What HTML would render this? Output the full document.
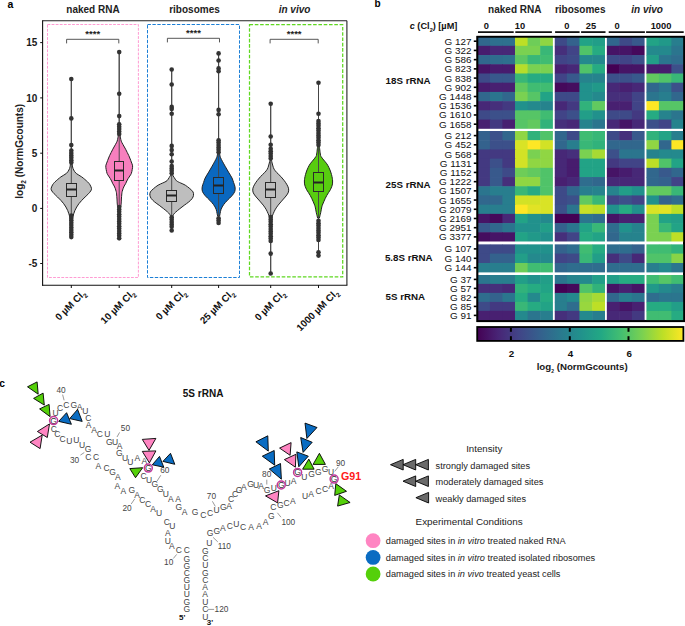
<!DOCTYPE html>
<html><head><meta charset="utf-8"><style>
html,body{margin:0;padding:0;background:#fff;}
svg{display:block;font-family:"Liberation Sans", sans-serif;}
</style></head><body>
<svg width="685" height="626" viewBox="0 0 685 626">
<rect width="685" height="626" fill="#fff"/>
<text x="7.60" y="8.10" font-size="10.5" font-weight="bold" font-style="normal" text-anchor="start" fill="#000" >a</text>
<text x="93.00" y="12.80" font-size="10" font-weight="bold" font-style="normal" text-anchor="middle" fill="#222" >naked RNA</text>
<text x="194.50" y="12.80" font-size="10" font-weight="bold" font-style="normal" text-anchor="middle" fill="#222" >ribosomes</text>
<text x="294.50" y="12.80" font-size="10" font-weight="bold" font-style="italic" text-anchor="middle" fill="#222" >in vivo</text>
<line x1="42.60" y1="20.70" x2="346.90" y2="20.70" stroke="#222" stroke-width="1.1" />
<line x1="346.90" y1="20.70" x2="346.90" y2="285.20" stroke="#222" stroke-width="1.1" />
<rect x="47.50" y="24.50" width="90.90" height="253.00" fill="none" stroke="#ff8acb" stroke-width="0.85" stroke-dasharray="2.8,1.3"/>
<rect x="147.50" y="24.50" width="92.00" height="253.00" fill="none" stroke="#1c7fd6" stroke-width="1.0" stroke-dasharray="3.4,1.5"/>
<rect x="249.50" y="24.70" width="93.20" height="252.20" fill="none" stroke="#5fd820" stroke-width="1.25" stroke-dasharray="3.6,1.7"/>
<path d="M66.6,43.4 L66.6,39.3 L118.8,39.3 L118.8,43.4" fill="none" stroke="#444" stroke-width="0.9"/>
<text x="92.70" y="37.10" font-size="9.5" font-weight="bold" font-style="normal" text-anchor="middle" fill="#222" >****</text>
<path d="M167.4,42.4 L167.4,38.3 L219.5,38.3 L219.5,42.4" fill="none" stroke="#444" stroke-width="0.9"/>
<text x="193.45" y="36.10" font-size="9.5" font-weight="bold" font-style="normal" text-anchor="middle" fill="#222" >****</text>
<path d="M270.1,43.4 L270.1,39.3 L318.2,39.3 L318.2,43.4" fill="none" stroke="#444" stroke-width="0.9"/>
<text x="294.15" y="37.10" font-size="9.5" font-weight="bold" font-style="normal" text-anchor="middle" fill="#222" >****</text>
<line x1="71.30" y1="79.00" x2="71.30" y2="238.00" stroke="#444" stroke-width="0.95" />
<line x1="119.20" y1="52.10" x2="119.20" y2="240.20" stroke="#444" stroke-width="0.95" />
<line x1="171.70" y1="69.50" x2="171.70" y2="229.70" stroke="#444" stroke-width="0.95" />
<line x1="218.60" y1="53.40" x2="218.60" y2="223.70" stroke="#444" stroke-width="0.95" />
<line x1="270.70" y1="103.70" x2="270.70" y2="273.50" stroke="#444" stroke-width="0.95" />
<line x1="318.50" y1="82.80" x2="318.50" y2="255.60" stroke="#444" stroke-width="0.95" />
<path d="M72.10,163.50 C72.18,164.08 72.33,165.92 72.60,167.00 C72.87,168.08 73.08,168.92 73.70,170.00 C74.32,171.08 74.97,172.35 76.30,173.50 C77.63,174.65 79.82,175.50 81.70,176.90 C83.58,178.30 86.20,180.55 87.60,181.90 C89.00,183.25 89.45,183.88 90.10,185.00 C90.75,186.12 91.40,187.60 91.50,188.60 C91.60,189.60 91.20,190.15 90.70,191.00 C90.20,191.85 89.43,192.70 88.50,193.70 C87.57,194.70 86.23,195.88 85.10,197.00 C83.97,198.12 82.73,199.28 81.70,200.40 C80.67,201.52 79.73,202.60 78.90,203.70 C78.07,204.80 77.37,205.87 76.70,207.00 C76.03,208.13 75.40,209.37 74.90,210.50 C74.40,211.63 74.05,212.72 73.70,213.80 C73.35,214.88 73.03,215.97 72.80,217.00 C72.57,218.03 72.38,219.50 72.30,220.00 L70.30,220.00 C70.22,219.50 70.03,218.03 69.80,217.00 C69.57,215.97 69.25,214.88 68.90,213.80 C68.55,212.72 68.20,211.63 67.70,210.50 C67.20,209.37 66.57,208.13 65.90,207.00 C65.23,205.87 64.53,204.80 63.70,203.70 C62.87,202.60 61.93,201.52 60.90,200.40 C59.87,199.28 58.63,198.12 57.50,197.00 C56.37,195.88 55.03,194.70 54.10,193.70 C53.17,192.70 52.40,191.85 51.90,191.00 C51.40,190.15 51.00,189.60 51.10,188.60 C51.20,187.60 51.85,186.12 52.50,185.00 C53.15,183.88 53.60,183.25 55.00,181.90 C56.40,180.55 59.02,178.30 60.90,176.90 C62.78,175.50 64.97,174.65 66.30,173.50 C67.63,172.35 68.28,171.08 68.90,170.00 C69.52,168.92 69.73,168.08 70.00,167.00 C70.27,165.92 70.42,164.08 70.50,163.50 Z" fill="#bebebe" stroke="#222" stroke-width="1.0"/>
<line x1="71.30" y1="79.00" x2="71.30" y2="238.00" stroke="#444" stroke-width="0.95" />
<rect x="66.50" y="183.50" width="10.00" height="13.00" fill="#bebebe" stroke="#2a2a2a" stroke-width="1.0" />
<line x1="66.50" y1="189.50" x2="76.50" y2="189.50" stroke="#222" stroke-width="2.0" />
<circle cx="71.30" cy="79.00" r="2.30" fill="#333" stroke="none" stroke-width="1"/>
<circle cx="71.30" cy="118.40" r="2.30" fill="#333" stroke="none" stroke-width="1"/>
<circle cx="71.30" cy="145.10" r="2.30" fill="#333" stroke="none" stroke-width="1"/>
<circle cx="71.30" cy="150.60" r="2.30" fill="#333" stroke="none" stroke-width="1"/>
<circle cx="71.30" cy="153.00" r="2.30" fill="#333" stroke="none" stroke-width="1"/>
<circle cx="71.30" cy="155.40" r="2.30" fill="#333" stroke="none" stroke-width="1"/>
<circle cx="71.30" cy="157.80" r="2.30" fill="#333" stroke="none" stroke-width="1"/>
<circle cx="71.30" cy="160.20" r="2.30" fill="#333" stroke="none" stroke-width="1"/>
<circle cx="71.30" cy="162.60" r="2.30" fill="#333" stroke="none" stroke-width="1"/>
<circle cx="71.30" cy="215.50" r="2.30" fill="#333" stroke="none" stroke-width="1"/>
<circle cx="71.30" cy="217.90" r="2.30" fill="#333" stroke="none" stroke-width="1"/>
<circle cx="71.30" cy="220.30" r="2.30" fill="#333" stroke="none" stroke-width="1"/>
<circle cx="71.30" cy="222.70" r="2.30" fill="#333" stroke="none" stroke-width="1"/>
<circle cx="71.30" cy="225.10" r="2.30" fill="#333" stroke="none" stroke-width="1"/>
<circle cx="71.30" cy="227.50" r="2.30" fill="#333" stroke="none" stroke-width="1"/>
<circle cx="71.30" cy="229.90" r="2.30" fill="#333" stroke="none" stroke-width="1"/>
<circle cx="71.30" cy="232.30" r="2.30" fill="#333" stroke="none" stroke-width="1"/>
<circle cx="71.30" cy="234.70" r="2.30" fill="#333" stroke="none" stroke-width="1"/>
<circle cx="71.30" cy="237.10" r="2.30" fill="#333" stroke="none" stroke-width="1"/>
<path d="M120.00,134.50 C120.08,135.08 120.30,136.92 120.50,138.00 C120.70,139.08 120.95,140.20 121.20,141.00 C121.45,141.80 121.57,141.97 122.00,142.80 C122.43,143.63 123.20,144.93 123.80,146.00 C124.40,147.07 125.03,148.13 125.60,149.20 C126.17,150.27 126.67,151.33 127.20,152.40 C127.73,153.47 128.30,154.50 128.80,155.60 C129.30,156.70 129.78,157.93 130.20,159.00 C130.62,160.07 130.90,160.87 131.30,162.00 C131.70,163.13 132.45,164.53 132.60,165.80 C132.75,167.07 132.42,168.32 132.20,169.60 C131.98,170.88 131.70,172.43 131.30,173.50 C130.90,174.57 130.33,175.15 129.80,176.00 C129.27,176.85 128.60,177.77 128.10,178.60 C127.60,179.43 127.22,180.15 126.80,181.00 C126.38,181.85 126.03,182.87 125.60,183.70 C125.17,184.53 124.63,185.15 124.20,186.00 C123.77,186.85 123.33,187.88 123.00,188.80 C122.67,189.72 122.40,190.65 122.20,191.50 C122.00,192.35 121.93,192.65 121.80,193.90 C121.67,195.15 121.50,197.48 121.40,199.00 C121.30,200.52 121.30,201.67 121.20,203.00 C121.10,204.33 120.87,206.33 120.80,207.00 L117.60,207.00 C117.53,206.33 117.30,204.33 117.20,203.00 C117.10,201.67 117.10,200.52 117.00,199.00 C116.90,197.48 116.73,195.15 116.60,193.90 C116.47,192.65 116.40,192.35 116.20,191.50 C116.00,190.65 115.73,189.72 115.40,188.80 C115.07,187.88 114.63,186.85 114.20,186.00 C113.77,185.15 113.23,184.53 112.80,183.70 C112.37,182.87 112.02,181.85 111.60,181.00 C111.18,180.15 110.80,179.43 110.30,178.60 C109.80,177.77 109.13,176.85 108.60,176.00 C108.07,175.15 107.50,174.57 107.10,173.50 C106.70,172.43 106.42,170.88 106.20,169.60 C105.98,168.32 105.65,167.07 105.80,165.80 C105.95,164.53 106.70,163.13 107.10,162.00 C107.50,160.87 107.78,160.07 108.20,159.00 C108.62,157.93 109.10,156.70 109.60,155.60 C110.10,154.50 110.67,153.47 111.20,152.40 C111.73,151.33 112.23,150.27 112.80,149.20 C113.37,148.13 114.00,147.07 114.60,146.00 C115.20,144.93 115.97,143.63 116.40,142.80 C116.83,141.97 116.95,141.80 117.20,141.00 C117.45,140.20 117.70,139.08 117.90,138.00 C118.10,136.92 118.32,135.08 118.40,134.50 Z" fill="#f77fbe" stroke="#222" stroke-width="1.0"/>
<line x1="119.20" y1="52.10" x2="119.20" y2="240.20" stroke="#444" stroke-width="0.95" />
<rect x="114.50" y="161.50" width="9.00" height="19.00" fill="#f77fbe" stroke="#2a2a2a" stroke-width="1.0" />
<line x1="114.50" y1="170.50" x2="123.50" y2="170.50" stroke="#222" stroke-width="2.0" />
<circle cx="119.20" cy="52.10" r="2.30" fill="#333" stroke="none" stroke-width="1"/>
<circle cx="119.20" cy="93.70" r="2.30" fill="#333" stroke="none" stroke-width="1"/>
<circle cx="119.20" cy="116.10" r="2.30" fill="#333" stroke="none" stroke-width="1"/>
<circle cx="119.20" cy="124.30" r="2.30" fill="#333" stroke="none" stroke-width="1"/>
<circle cx="119.20" cy="126.70" r="2.30" fill="#333" stroke="none" stroke-width="1"/>
<circle cx="119.20" cy="129.10" r="2.30" fill="#333" stroke="none" stroke-width="1"/>
<circle cx="119.20" cy="131.50" r="2.30" fill="#333" stroke="none" stroke-width="1"/>
<circle cx="119.20" cy="133.90" r="2.30" fill="#333" stroke="none" stroke-width="1"/>
<circle cx="119.20" cy="207.00" r="2.30" fill="#333" stroke="none" stroke-width="1"/>
<circle cx="119.20" cy="209.40" r="2.30" fill="#333" stroke="none" stroke-width="1"/>
<circle cx="119.20" cy="211.80" r="2.30" fill="#333" stroke="none" stroke-width="1"/>
<circle cx="119.20" cy="214.20" r="2.30" fill="#333" stroke="none" stroke-width="1"/>
<circle cx="119.20" cy="216.60" r="2.30" fill="#333" stroke="none" stroke-width="1"/>
<circle cx="119.20" cy="219.00" r="2.30" fill="#333" stroke="none" stroke-width="1"/>
<circle cx="119.20" cy="221.40" r="2.30" fill="#333" stroke="none" stroke-width="1"/>
<circle cx="119.20" cy="223.80" r="2.30" fill="#333" stroke="none" stroke-width="1"/>
<circle cx="119.20" cy="226.20" r="2.30" fill="#333" stroke="none" stroke-width="1"/>
<circle cx="119.20" cy="228.60" r="2.30" fill="#333" stroke="none" stroke-width="1"/>
<circle cx="119.20" cy="231.00" r="2.30" fill="#333" stroke="none" stroke-width="1"/>
<circle cx="119.20" cy="233.40" r="2.30" fill="#333" stroke="none" stroke-width="1"/>
<circle cx="119.20" cy="235.80" r="2.30" fill="#333" stroke="none" stroke-width="1"/>
<circle cx="119.20" cy="238.20" r="2.30" fill="#333" stroke="none" stroke-width="1"/>
<path d="M172.50,174.60 C172.62,174.83 172.93,175.53 173.20,176.00 C173.47,176.47 173.78,176.90 174.10,177.40 C174.42,177.90 174.72,178.45 175.10,179.00 C175.48,179.55 175.83,180.20 176.40,180.70 C176.97,181.20 177.78,181.62 178.50,182.00 C179.22,182.38 179.57,182.47 180.70,183.00 C181.83,183.53 183.78,184.27 185.30,185.20 C186.82,186.13 188.52,187.48 189.80,188.60 C191.08,189.72 192.38,190.78 193.00,191.90 C193.62,193.02 193.65,194.18 193.50,195.30 C193.35,196.42 192.90,197.48 192.10,198.60 C191.30,199.72 190.02,200.88 188.70,202.00 C187.38,203.12 185.68,204.18 184.20,205.30 C182.72,206.42 181.20,207.58 179.80,208.70 C178.40,209.82 176.78,211.12 175.80,212.00 C174.82,212.88 174.35,213.43 173.90,214.00 C173.45,214.57 173.33,214.90 173.10,215.40 C172.87,215.90 172.60,216.73 172.50,217.00 L170.90,217.00 C170.80,216.73 170.53,215.90 170.30,215.40 C170.07,214.90 169.95,214.57 169.50,214.00 C169.05,213.43 168.58,212.88 167.60,212.00 C166.62,211.12 165.00,209.82 163.60,208.70 C162.20,207.58 160.68,206.42 159.20,205.30 C157.72,204.18 156.02,203.12 154.70,202.00 C153.38,200.88 152.10,199.72 151.30,198.60 C150.50,197.48 150.05,196.42 149.90,195.30 C149.75,194.18 149.78,193.02 150.40,191.90 C151.02,190.78 152.32,189.72 153.60,188.60 C154.88,187.48 156.58,186.13 158.10,185.20 C159.62,184.27 161.57,183.53 162.70,183.00 C163.83,182.47 164.18,182.38 164.90,182.00 C165.62,181.62 166.43,181.20 167.00,180.70 C167.57,180.20 167.92,179.55 168.30,179.00 C168.68,178.45 168.98,177.90 169.30,177.40 C169.62,176.90 169.93,176.47 170.20,176.00 C170.47,175.53 170.78,174.83 170.90,174.60 Z" fill="#bebebe" stroke="#222" stroke-width="1.0"/>
<line x1="171.70" y1="69.50" x2="171.70" y2="229.70" stroke="#444" stroke-width="0.95" />
<rect x="166.50" y="190.50" width="10.00" height="11.00" fill="#bebebe" stroke="#2a2a2a" stroke-width="1.0" />
<line x1="166.50" y1="195.50" x2="176.50" y2="195.50" stroke="#222" stroke-width="2.0" />
<circle cx="171.70" cy="69.50" r="2.30" fill="#333" stroke="none" stroke-width="1"/>
<circle cx="171.70" cy="84.50" r="2.30" fill="#333" stroke="none" stroke-width="1"/>
<circle cx="171.70" cy="106.90" r="2.30" fill="#333" stroke="none" stroke-width="1"/>
<circle cx="171.70" cy="109.00" r="2.30" fill="#333" stroke="none" stroke-width="1"/>
<circle cx="171.70" cy="113.80" r="2.30" fill="#333" stroke="none" stroke-width="1"/>
<circle cx="171.70" cy="145.90" r="2.30" fill="#333" stroke="none" stroke-width="1"/>
<circle cx="171.70" cy="150.10" r="2.30" fill="#333" stroke="none" stroke-width="1"/>
<circle cx="171.70" cy="154.30" r="2.30" fill="#333" stroke="none" stroke-width="1"/>
<circle cx="171.70" cy="161.50" r="2.30" fill="#333" stroke="none" stroke-width="1"/>
<circle cx="171.70" cy="166.00" r="2.30" fill="#333" stroke="none" stroke-width="1"/>
<circle cx="171.70" cy="168.40" r="2.30" fill="#333" stroke="none" stroke-width="1"/>
<circle cx="171.70" cy="170.80" r="2.30" fill="#333" stroke="none" stroke-width="1"/>
<circle cx="171.70" cy="173.20" r="2.30" fill="#333" stroke="none" stroke-width="1"/>
<circle cx="171.70" cy="217.20" r="2.30" fill="#333" stroke="none" stroke-width="1"/>
<circle cx="171.70" cy="219.60" r="2.30" fill="#333" stroke="none" stroke-width="1"/>
<circle cx="171.70" cy="222.00" r="2.30" fill="#333" stroke="none" stroke-width="1"/>
<circle cx="171.70" cy="224.40" r="2.30" fill="#333" stroke="none" stroke-width="1"/>
<circle cx="171.70" cy="226.80" r="2.30" fill="#333" stroke="none" stroke-width="1"/>
<circle cx="171.70" cy="230.50" r="2.30" fill="#333" stroke="none" stroke-width="1"/>
<path d="M219.60,153.50 C219.73,154.13 219.90,155.93 220.40,157.30 C220.90,158.67 221.82,160.22 222.60,161.70 C223.38,163.18 224.12,164.47 225.10,166.20 C226.08,167.93 227.35,170.13 228.50,172.10 C229.65,174.07 231.15,176.27 232.00,178.00 C232.85,179.73 233.10,181.02 233.60,182.50 C234.10,183.98 234.80,185.42 235.00,186.90 C235.20,188.38 235.32,189.92 234.80,191.40 C234.28,192.88 233.13,194.32 231.90,195.80 C230.67,197.28 228.78,198.82 227.40,200.30 C226.02,201.78 224.65,203.22 223.60,204.70 C222.55,206.18 221.68,207.72 221.10,209.20 C220.52,210.68 220.35,212.47 220.10,213.60 C219.85,214.73 219.68,215.60 219.60,216.00 L217.60,216.00 C217.52,215.60 217.35,214.73 217.10,213.60 C216.85,212.47 216.68,210.68 216.10,209.20 C215.52,207.72 214.65,206.18 213.60,204.70 C212.55,203.22 211.18,201.78 209.80,200.30 C208.42,198.82 206.53,197.28 205.30,195.80 C204.07,194.32 202.92,192.88 202.40,191.40 C201.88,189.92 202.00,188.38 202.20,186.90 C202.40,185.42 203.10,183.98 203.60,182.50 C204.10,181.02 204.35,179.73 205.20,178.00 C206.05,176.27 207.55,174.07 208.70,172.10 C209.85,170.13 211.12,167.93 212.10,166.20 C213.08,164.47 213.82,163.18 214.60,161.70 C215.38,160.22 216.30,158.67 216.80,157.30 C217.30,155.93 217.47,154.13 217.60,153.50 Z" fill="#0a68c0" stroke="#222" stroke-width="1.0"/>
<line x1="218.60" y1="53.40" x2="218.60" y2="223.70" stroke="#444" stroke-width="0.95" />
<rect x="213.50" y="177.50" width="10.00" height="16.00" fill="#0a68c0" stroke="#2a2a2a" stroke-width="1.0" />
<line x1="213.50" y1="185.50" x2="223.50" y2="185.50" stroke="#222" stroke-width="2.0" />
<circle cx="218.60" cy="53.40" r="2.30" fill="#333" stroke="none" stroke-width="1"/>
<circle cx="218.60" cy="60.50" r="2.30" fill="#333" stroke="none" stroke-width="1"/>
<circle cx="218.60" cy="68.40" r="2.30" fill="#333" stroke="none" stroke-width="1"/>
<circle cx="218.60" cy="71.30" r="2.30" fill="#333" stroke="none" stroke-width="1"/>
<circle cx="218.60" cy="109.90" r="2.30" fill="#333" stroke="none" stroke-width="1"/>
<circle cx="218.60" cy="114.20" r="2.30" fill="#333" stroke="none" stroke-width="1"/>
<circle cx="218.60" cy="140.20" r="2.30" fill="#333" stroke="none" stroke-width="1"/>
<circle cx="218.60" cy="142.60" r="2.30" fill="#333" stroke="none" stroke-width="1"/>
<circle cx="218.60" cy="145.00" r="2.30" fill="#333" stroke="none" stroke-width="1"/>
<circle cx="218.60" cy="147.40" r="2.30" fill="#333" stroke="none" stroke-width="1"/>
<circle cx="218.60" cy="149.80" r="2.30" fill="#333" stroke="none" stroke-width="1"/>
<circle cx="218.60" cy="152.20" r="2.30" fill="#333" stroke="none" stroke-width="1"/>
<circle cx="218.60" cy="218.20" r="2.30" fill="#333" stroke="none" stroke-width="1"/>
<circle cx="218.60" cy="220.60" r="2.30" fill="#333" stroke="none" stroke-width="1"/>
<circle cx="218.60" cy="223.00" r="2.30" fill="#333" stroke="none" stroke-width="1"/>
<path d="M271.50,160.40 C271.60,160.83 271.87,162.07 272.10,163.00 C272.33,163.93 272.57,164.97 272.90,166.00 C273.23,167.03 273.45,168.10 274.10,169.20 C274.75,170.30 275.67,171.37 276.80,172.60 C277.93,173.83 279.65,175.25 280.90,176.60 C282.15,177.95 283.28,179.33 284.30,180.70 C285.32,182.07 286.28,183.45 287.00,184.80 C287.72,186.15 288.42,187.45 288.60,188.80 C288.78,190.15 288.67,191.53 288.10,192.90 C287.53,194.27 286.28,195.63 285.20,197.00 C284.12,198.37 282.77,199.75 281.60,201.10 C280.43,202.45 279.23,203.75 278.20,205.10 C277.17,206.45 276.20,207.83 275.40,209.20 C274.60,210.57 273.95,212.05 273.40,213.30 C272.85,214.55 272.40,215.75 272.10,216.70 C271.80,217.65 271.68,218.62 271.60,219.00 L269.80,219.00 C269.72,218.62 269.60,217.65 269.30,216.70 C269.00,215.75 268.55,214.55 268.00,213.30 C267.45,212.05 266.80,210.57 266.00,209.20 C265.20,207.83 264.23,206.45 263.20,205.10 C262.17,203.75 260.97,202.45 259.80,201.10 C258.63,199.75 257.28,198.37 256.20,197.00 C255.12,195.63 253.87,194.27 253.30,192.90 C252.73,191.53 252.62,190.15 252.80,188.80 C252.98,187.45 253.68,186.15 254.40,184.80 C255.12,183.45 256.08,182.07 257.10,180.70 C258.12,179.33 259.25,177.95 260.50,176.60 C261.75,175.25 263.47,173.83 264.60,172.60 C265.73,171.37 266.65,170.30 267.30,169.20 C267.95,168.10 268.17,167.03 268.50,166.00 C268.83,164.97 269.07,163.93 269.30,163.00 C269.53,162.07 269.80,160.83 269.90,160.40 Z" fill="#bebebe" stroke="#222" stroke-width="1.0"/>
<line x1="270.70" y1="103.70" x2="270.70" y2="273.50" stroke="#444" stroke-width="0.95" />
<rect x="265.50" y="182.50" width="10.00" height="15.00" fill="#bebebe" stroke="#2a2a2a" stroke-width="1.0" />
<line x1="265.50" y1="189.50" x2="275.50" y2="189.50" stroke="#222" stroke-width="2.0" />
<circle cx="270.70" cy="103.70" r="2.30" fill="#333" stroke="none" stroke-width="1"/>
<circle cx="270.70" cy="136.50" r="2.30" fill="#333" stroke="none" stroke-width="1"/>
<circle cx="270.70" cy="144.70" r="2.30" fill="#333" stroke="none" stroke-width="1"/>
<circle cx="270.70" cy="148.80" r="2.30" fill="#333" stroke="none" stroke-width="1"/>
<circle cx="270.70" cy="151.20" r="2.30" fill="#333" stroke="none" stroke-width="1"/>
<circle cx="270.70" cy="153.60" r="2.30" fill="#333" stroke="none" stroke-width="1"/>
<circle cx="270.70" cy="156.00" r="2.30" fill="#333" stroke="none" stroke-width="1"/>
<circle cx="270.70" cy="158.40" r="2.30" fill="#333" stroke="none" stroke-width="1"/>
<circle cx="270.70" cy="217.00" r="2.30" fill="#333" stroke="none" stroke-width="1"/>
<circle cx="270.70" cy="219.40" r="2.30" fill="#333" stroke="none" stroke-width="1"/>
<circle cx="270.70" cy="221.80" r="2.30" fill="#333" stroke="none" stroke-width="1"/>
<circle cx="270.70" cy="224.20" r="2.30" fill="#333" stroke="none" stroke-width="1"/>
<circle cx="270.70" cy="226.60" r="2.30" fill="#333" stroke="none" stroke-width="1"/>
<circle cx="270.70" cy="229.00" r="2.30" fill="#333" stroke="none" stroke-width="1"/>
<circle cx="270.70" cy="231.40" r="2.30" fill="#333" stroke="none" stroke-width="1"/>
<circle cx="270.70" cy="233.80" r="2.30" fill="#333" stroke="none" stroke-width="1"/>
<circle cx="270.70" cy="236.20" r="2.30" fill="#333" stroke="none" stroke-width="1"/>
<circle cx="270.70" cy="238.60" r="2.30" fill="#333" stroke="none" stroke-width="1"/>
<circle cx="270.70" cy="241.00" r="2.30" fill="#333" stroke="none" stroke-width="1"/>
<circle cx="270.70" cy="253.60" r="2.30" fill="#333" stroke="none" stroke-width="1"/>
<circle cx="270.70" cy="273.50" r="2.30" fill="#333" stroke="none" stroke-width="1"/>
<path d="M319.30,145.50 C319.38,146.25 319.60,148.42 319.80,150.00 C320.00,151.58 320.28,153.90 320.50,155.00 C320.72,156.10 320.57,155.77 321.10,156.60 C321.63,157.43 322.75,158.80 323.70,160.00 C324.65,161.20 325.93,162.55 326.80,163.80 C327.67,165.05 328.30,166.30 328.90,167.50 C329.50,168.70 329.97,169.83 330.40,171.00 C330.83,172.17 331.18,173.30 331.50,174.50 C331.82,175.70 332.12,177.12 332.30,178.20 C332.48,179.28 332.57,180.05 332.60,181.00 C332.63,181.95 332.65,182.93 332.50,183.90 C332.35,184.87 332.05,185.83 331.70,186.80 C331.35,187.77 330.92,188.75 330.40,189.70 C329.88,190.65 329.20,191.55 328.60,192.50 C328.00,193.45 327.35,194.43 326.80,195.40 C326.25,196.37 325.77,197.33 325.30,198.30 C324.83,199.27 324.42,200.25 324.00,201.20 C323.58,202.15 323.17,203.05 322.80,204.00 C322.43,204.95 322.15,205.45 321.80,206.90 C321.45,208.35 321.00,211.25 320.70,212.70 C320.40,214.15 320.22,214.72 320.00,215.60 C319.78,216.48 319.50,217.60 319.40,218.00 L317.60,218.00 C317.50,217.60 317.22,216.48 317.00,215.60 C316.78,214.72 316.60,214.15 316.30,212.70 C316.00,211.25 315.55,208.35 315.20,206.90 C314.85,205.45 314.57,204.95 314.20,204.00 C313.83,203.05 313.42,202.15 313.00,201.20 C312.58,200.25 312.17,199.27 311.70,198.30 C311.23,197.33 310.75,196.37 310.20,195.40 C309.65,194.43 309.00,193.45 308.40,192.50 C307.80,191.55 307.12,190.65 306.60,189.70 C306.08,188.75 305.65,187.77 305.30,186.80 C304.95,185.83 304.65,184.87 304.50,183.90 C304.35,182.93 304.37,181.95 304.40,181.00 C304.43,180.05 304.52,179.28 304.70,178.20 C304.88,177.12 305.18,175.70 305.50,174.50 C305.82,173.30 306.17,172.17 306.60,171.00 C307.03,169.83 307.50,168.70 308.10,167.50 C308.70,166.30 309.33,165.05 310.20,163.80 C311.07,162.55 312.35,161.20 313.30,160.00 C314.25,158.80 315.37,157.43 315.90,156.60 C316.43,155.77 316.28,156.10 316.50,155.00 C316.72,153.90 317.00,151.58 317.20,150.00 C317.40,148.42 317.62,146.25 317.70,145.50 Z" fill="#58cc10" stroke="#222" stroke-width="1.0"/>
<line x1="318.50" y1="82.80" x2="318.50" y2="255.60" stroke="#444" stroke-width="0.95" />
<rect x="313.50" y="172.50" width="10.00" height="19.00" fill="#58cc10" stroke="#2a2a2a" stroke-width="1.0" />
<line x1="313.50" y1="182.50" x2="323.50" y2="182.50" stroke="#222" stroke-width="2.0" />
<circle cx="318.50" cy="82.80" r="2.30" fill="#333" stroke="none" stroke-width="1"/>
<circle cx="318.50" cy="113.70" r="2.30" fill="#333" stroke="none" stroke-width="1"/>
<circle cx="318.50" cy="121.00" r="2.30" fill="#333" stroke="none" stroke-width="1"/>
<circle cx="318.50" cy="123.40" r="2.30" fill="#333" stroke="none" stroke-width="1"/>
<circle cx="318.50" cy="125.80" r="2.30" fill="#333" stroke="none" stroke-width="1"/>
<circle cx="318.50" cy="128.20" r="2.30" fill="#333" stroke="none" stroke-width="1"/>
<circle cx="318.50" cy="130.60" r="2.30" fill="#333" stroke="none" stroke-width="1"/>
<circle cx="318.50" cy="133.00" r="2.30" fill="#333" stroke="none" stroke-width="1"/>
<circle cx="318.50" cy="135.40" r="2.30" fill="#333" stroke="none" stroke-width="1"/>
<circle cx="318.50" cy="137.80" r="2.30" fill="#333" stroke="none" stroke-width="1"/>
<circle cx="318.50" cy="140.20" r="2.30" fill="#333" stroke="none" stroke-width="1"/>
<circle cx="318.50" cy="142.60" r="2.30" fill="#333" stroke="none" stroke-width="1"/>
<circle cx="318.50" cy="145.00" r="2.30" fill="#333" stroke="none" stroke-width="1"/>
<circle cx="318.50" cy="220.80" r="2.30" fill="#333" stroke="none" stroke-width="1"/>
<circle cx="318.50" cy="223.20" r="2.30" fill="#333" stroke="none" stroke-width="1"/>
<circle cx="318.50" cy="225.60" r="2.30" fill="#333" stroke="none" stroke-width="1"/>
<circle cx="318.50" cy="228.00" r="2.30" fill="#333" stroke="none" stroke-width="1"/>
<circle cx="318.50" cy="230.40" r="2.30" fill="#333" stroke="none" stroke-width="1"/>
<circle cx="318.50" cy="232.80" r="2.30" fill="#333" stroke="none" stroke-width="1"/>
<circle cx="318.50" cy="235.20" r="2.30" fill="#333" stroke="none" stroke-width="1"/>
<circle cx="318.50" cy="237.60" r="2.30" fill="#333" stroke="none" stroke-width="1"/>
<circle cx="318.50" cy="240.00" r="2.30" fill="#333" stroke="none" stroke-width="1"/>
<circle cx="318.50" cy="252.30" r="2.30" fill="#333" stroke="none" stroke-width="1"/>
<circle cx="318.50" cy="255.60" r="2.30" fill="#333" stroke="none" stroke-width="1"/>
<line x1="42.60" y1="20.20" x2="42.60" y2="285.70" stroke="#111" stroke-width="1.1" />
<line x1="42.10" y1="285.20" x2="347.40" y2="285.20" stroke="#111" stroke-width="1.1" />
<line x1="40.20" y1="42.60" x2="43.00" y2="42.60" stroke="#111" stroke-width="1" />
<text x="37.40" y="46.20" font-size="10" font-weight="bold" font-style="normal" text-anchor="end" fill="#1a1a1a" >15</text>
<line x1="40.20" y1="97.90" x2="43.00" y2="97.90" stroke="#111" stroke-width="1" />
<text x="37.40" y="101.50" font-size="10" font-weight="bold" font-style="normal" text-anchor="end" fill="#1a1a1a" >10</text>
<line x1="40.20" y1="153.20" x2="43.00" y2="153.20" stroke="#111" stroke-width="1" />
<text x="37.40" y="156.80" font-size="10" font-weight="bold" font-style="normal" text-anchor="end" fill="#1a1a1a" >5</text>
<line x1="40.20" y1="208.40" x2="43.00" y2="208.40" stroke="#111" stroke-width="1" />
<text x="37.40" y="212.00" font-size="10" font-weight="bold" font-style="normal" text-anchor="end" fill="#1a1a1a" >0</text>
<line x1="40.20" y1="263.50" x2="43.00" y2="263.50" stroke="#111" stroke-width="1" />
<text x="37.40" y="267.10" font-size="10" font-weight="bold" font-style="normal" text-anchor="end" fill="#1a1a1a" >-5</text>
<text transform="translate(23.3,151.3) rotate(-90)" font-size="10" font-weight="bold" text-anchor="middle" fill="#222">log<tspan font-size="6.5" dy="2.2">2</tspan><tspan dy="-2.2"> (NormGcounts)</tspan></text>
<line x1="71.30" y1="285.00" x2="71.30" y2="288.00" stroke="#111" stroke-width="1" />
<line x1="119.20" y1="285.00" x2="119.20" y2="288.00" stroke="#111" stroke-width="1" />
<line x1="171.70" y1="285.00" x2="171.70" y2="288.00" stroke="#111" stroke-width="1" />
<line x1="218.60" y1="285.00" x2="218.60" y2="288.00" stroke="#111" stroke-width="1" />
<line x1="270.70" y1="285.00" x2="270.70" y2="288.00" stroke="#111" stroke-width="1" />
<line x1="318.50" y1="285.00" x2="318.50" y2="288.00" stroke="#111" stroke-width="1" />
<text transform="translate(86.30,294.00) rotate(-45)" font-size="9.8" font-weight="bold" text-anchor="end" fill="#111">0 µM Cl<tspan font-size="6.5" dy="2.8">2</tspan></text>
<text transform="translate(135.40,293.80) rotate(-45)" font-size="9.8" font-weight="bold" text-anchor="end" fill="#111">10 µM Cl<tspan font-size="6.5" dy="2.8">2</tspan></text>
<text transform="translate(186.70,293.60) rotate(-45)" font-size="9.8" font-weight="bold" text-anchor="end" fill="#111">0 µM Cl<tspan font-size="6.5" dy="2.8">2</tspan></text>
<text transform="translate(234.80,293.80) rotate(-45)" font-size="9.8" font-weight="bold" text-anchor="end" fill="#111">25 µM Cl<tspan font-size="6.5" dy="2.8">2</tspan></text>
<text transform="translate(285.70,294.20) rotate(-45)" font-size="9.8" font-weight="bold" text-anchor="end" fill="#111">0 µM Cl<tspan font-size="6.5" dy="2.8">2</tspan></text>
<text transform="translate(339.00,293.20) rotate(-45)" font-size="9.8" font-weight="bold" text-anchor="end" fill="#111">1000 µM Cl<tspan font-size="6.5" dy="2.8">2</tspan></text>
<text x="374.50" y="7.00" font-size="10" font-weight="bold" font-style="normal" text-anchor="start" fill="#000" >b</text>
<text x="514.80" y="13.20" font-size="10" font-weight="bold" font-style="normal" text-anchor="middle" fill="#222" >naked RNA</text>
<text x="580.20" y="13.20" font-size="10" font-weight="bold" font-style="normal" text-anchor="middle" fill="#222" >ribosomes</text>
<text x="647.10" y="13.20" font-size="10" font-weight="bold" font-style="italic" text-anchor="middle" fill="#222" >in vivo</text>
<text x="409.7" y="29.2" font-size="9.2" font-weight="bold" fill="#111"><tspan font-style="italic">c</tspan> (Cl<tspan font-size="5.5" dy="2.3">2</tspan><tspan dy="-2.3">) [µM]</tspan></text>
<text x="486.40" y="28.80" font-size="9.3" font-weight="bold" font-style="normal" text-anchor="middle" fill="#111" >0</text>
<text x="520.00" y="28.80" font-size="9.3" font-weight="bold" font-style="normal" text-anchor="middle" fill="#111" >10</text>
<text x="566.80" y="28.80" font-size="9.3" font-weight="bold" font-style="normal" text-anchor="middle" fill="#111" >0</text>
<text x="590.90" y="28.80" font-size="9.3" font-weight="bold" font-style="normal" text-anchor="middle" fill="#111" >25</text>
<text x="617.00" y="28.80" font-size="9.3" font-weight="bold" font-style="normal" text-anchor="middle" fill="#111" >0</text>
<text x="661.00" y="28.80" font-size="9.3" font-weight="bold" font-style="normal" text-anchor="middle" fill="#111" >1000</text>
<line x1="478.00" y1="32.10" x2="513.70" y2="32.10" stroke="#111" stroke-width="1.8" />
<line x1="515.30" y1="32.10" x2="551.90" y2="32.10" stroke="#111" stroke-width="1.8" />
<line x1="555.10" y1="32.10" x2="579.60" y2="32.10" stroke="#111" stroke-width="1.8" />
<line x1="581.10" y1="32.10" x2="605.50" y2="32.10" stroke="#111" stroke-width="1.8" />
<line x1="608.70" y1="32.10" x2="644.90" y2="32.10" stroke="#111" stroke-width="1.8" />
<line x1="646.10" y1="32.10" x2="683.70" y2="32.10" stroke="#111" stroke-width="1.8" />
<rect x="476.50" y="35.90" width="208.50" height="286.20" fill="#000" stroke="none" stroke-width="1" />
<rect x="478.30" y="37.70" width="204.70" height="282.20" fill="#fff" stroke="none" stroke-width="1" />
<rect x="477.30" y="36.60" width="13.20" height="9.82" fill="#31678d"/>
<rect x="489.90" y="36.60" width="13.10" height="9.82" fill="#2e708e"/>
<rect x="502.40" y="36.60" width="13.20" height="9.82" fill="#2e708e"/>
<rect x="515.00" y="36.60" width="13.20" height="9.82" fill="#bddf26"/>
<rect x="527.60" y="36.60" width="13.20" height="9.82" fill="#6ecd58"/>
<rect x="540.20" y="36.60" width="13.30" height="9.82" fill="#90d643"/>
<rect x="554.50" y="36.60" width="13.00" height="9.82" fill="#3e4a88"/>
<rect x="566.90" y="36.60" width="13.10" height="9.82" fill="#34628d"/>
<rect x="579.40" y="36.60" width="13.40" height="9.82" fill="#22a386"/>
<rect x="592.20" y="36.60" width="13.40" height="9.82" fill="#229e88"/>
<rect x="606.60" y="36.60" width="13.30" height="9.82" fill="#31678d"/>
<rect x="619.30" y="36.60" width="13.20" height="9.82" fill="#3e4a88"/>
<rect x="631.90" y="36.60" width="13.30" height="9.82" fill="#38598c"/>
<rect x="646.30" y="36.60" width="13.20" height="9.82" fill="#22a386"/>
<rect x="658.90" y="36.60" width="13.10" height="9.82" fill="#219989"/>
<rect x="671.40" y="36.60" width="13.20" height="9.82" fill="#287e8e"/>
<text x="471.40" y="44.71" font-size="9.9" font-weight="normal" font-style="normal" text-anchor="end" fill="#111" >G 127</text>
<line x1="473.80" y1="41.21" x2="476.80" y2="41.21" stroke="#000" stroke-width="1.6" />
<rect x="477.30" y="45.82" width="13.20" height="9.82" fill="#471c6e"/>
<rect x="489.90" y="45.82" width="13.10" height="9.82" fill="#472877"/>
<rect x="502.40" y="45.82" width="13.20" height="9.82" fill="#472877"/>
<rect x="515.00" y="45.82" width="13.20" height="9.82" fill="#7ad151"/>
<rect x="527.60" y="45.82" width="13.20" height="9.82" fill="#7ad151"/>
<rect x="540.20" y="45.82" width="13.30" height="9.82" fill="#39b777"/>
<rect x="554.50" y="45.82" width="13.00" height="9.82" fill="#462f7b"/>
<rect x="566.90" y="45.82" width="13.10" height="9.82" fill="#414487"/>
<rect x="579.40" y="45.82" width="13.40" height="9.82" fill="#50c369"/>
<rect x="592.20" y="45.82" width="13.40" height="9.82" fill="#26ab82"/>
<rect x="606.60" y="45.82" width="13.30" height="9.82" fill="#461466"/>
<rect x="619.30" y="45.82" width="13.20" height="9.82" fill="#461466"/>
<rect x="631.90" y="45.82" width="13.30" height="9.82" fill="#45095b"/>
<rect x="646.30" y="45.82" width="13.20" height="9.82" fill="#24898d"/>
<rect x="658.90" y="45.82" width="13.10" height="9.82" fill="#24898d"/>
<rect x="671.40" y="45.82" width="13.20" height="9.82" fill="#2b758e"/>
<text x="471.40" y="53.93" font-size="9.9" font-weight="normal" font-style="normal" text-anchor="end" fill="#111" >G 322</text>
<line x1="473.80" y1="50.43" x2="476.80" y2="50.43" stroke="#000" stroke-width="1.6" />
<rect x="477.30" y="55.04" width="13.20" height="9.82" fill="#31678d"/>
<rect x="489.90" y="55.04" width="13.10" height="9.82" fill="#2f6d8e"/>
<rect x="502.40" y="55.04" width="13.20" height="9.82" fill="#2e708e"/>
<rect x="515.00" y="55.04" width="13.20" height="9.82" fill="#5cc762"/>
<rect x="527.60" y="55.04" width="13.20" height="9.82" fill="#39b777"/>
<rect x="540.20" y="55.04" width="13.30" height="9.82" fill="#40bc72"/>
<rect x="554.50" y="55.04" width="13.00" height="9.82" fill="#414487"/>
<rect x="566.90" y="55.04" width="13.10" height="9.82" fill="#3e4a88"/>
<rect x="579.40" y="55.04" width="13.40" height="9.82" fill="#24898d"/>
<rect x="592.20" y="55.04" width="13.40" height="9.82" fill="#24898d"/>
<rect x="606.60" y="55.04" width="13.30" height="9.82" fill="#3e4a88"/>
<rect x="619.30" y="55.04" width="13.20" height="9.82" fill="#414487"/>
<rect x="631.90" y="55.04" width="13.30" height="9.82" fill="#3c508a"/>
<rect x="646.30" y="55.04" width="13.20" height="9.82" fill="#229e88"/>
<rect x="658.90" y="55.04" width="13.10" height="9.82" fill="#2b758e"/>
<rect x="671.40" y="55.04" width="13.20" height="9.82" fill="#2f6d8e"/>
<text x="471.40" y="63.15" font-size="9.9" font-weight="normal" font-style="normal" text-anchor="end" fill="#111" >G 586</text>
<line x1="473.80" y1="59.65" x2="476.80" y2="59.65" stroke="#000" stroke-width="1.6" />
<rect x="477.30" y="64.26" width="13.20" height="9.82" fill="#461466"/>
<rect x="489.90" y="64.26" width="13.10" height="9.82" fill="#471c6e"/>
<rect x="502.40" y="64.26" width="13.20" height="9.82" fill="#471c6e"/>
<rect x="515.00" y="64.26" width="13.20" height="9.82" fill="#b6dd2b"/>
<rect x="527.60" y="64.26" width="13.20" height="9.82" fill="#7ad151"/>
<rect x="540.20" y="64.26" width="13.30" height="9.82" fill="#7ad151"/>
<rect x="554.50" y="64.26" width="13.00" height="9.82" fill="#482071"/>
<rect x="566.90" y="64.26" width="13.10" height="9.82" fill="#472877"/>
<rect x="579.40" y="64.26" width="13.40" height="9.82" fill="#50c369"/>
<rect x="592.20" y="64.26" width="13.40" height="9.82" fill="#26ab82"/>
<rect x="606.60" y="64.26" width="13.30" height="9.82" fill="#440154"/>
<rect x="619.30" y="64.26" width="13.20" height="9.82" fill="#461466"/>
<rect x="631.90" y="64.26" width="13.30" height="9.82" fill="#461466"/>
<rect x="646.30" y="64.26" width="13.20" height="9.82" fill="#471c6e"/>
<rect x="658.90" y="64.26" width="13.10" height="9.82" fill="#471c6e"/>
<rect x="671.40" y="64.26" width="13.20" height="9.82" fill="#3c508a"/>
<text x="471.40" y="72.37" font-size="9.9" font-weight="normal" font-style="normal" text-anchor="end" fill="#111" >G 823</text>
<line x1="473.80" y1="68.87" x2="476.80" y2="68.87" stroke="#000" stroke-width="1.6" />
<rect x="477.30" y="73.48" width="13.20" height="9.82" fill="#3e4a88"/>
<rect x="489.90" y="73.48" width="13.10" height="9.82" fill="#38598c"/>
<rect x="502.40" y="73.48" width="13.20" height="9.82" fill="#38598c"/>
<rect x="515.00" y="73.48" width="13.20" height="9.82" fill="#39b777"/>
<rect x="527.60" y="73.48" width="13.20" height="9.82" fill="#26ab82"/>
<rect x="540.20" y="73.48" width="13.30" height="9.82" fill="#26ab82"/>
<rect x="554.50" y="73.48" width="13.00" height="9.82" fill="#414487"/>
<rect x="566.90" y="73.48" width="13.10" height="9.82" fill="#38598c"/>
<rect x="579.40" y="73.48" width="13.40" height="9.82" fill="#26838d"/>
<rect x="592.20" y="73.48" width="13.40" height="9.82" fill="#26838d"/>
<rect x="606.60" y="73.48" width="13.30" height="9.82" fill="#3c508a"/>
<rect x="619.30" y="73.48" width="13.20" height="9.82" fill="#3c508a"/>
<rect x="631.90" y="73.48" width="13.30" height="9.82" fill="#38598c"/>
<rect x="646.30" y="73.48" width="13.20" height="9.82" fill="#62c95f"/>
<rect x="658.90" y="73.48" width="13.10" height="9.82" fill="#50c369"/>
<rect x="671.40" y="73.48" width="13.20" height="9.82" fill="#39b777"/>
<text x="471.40" y="81.59" font-size="9.9" font-weight="normal" font-style="normal" text-anchor="end" fill="#111" >G 838</text>
<line x1="473.80" y1="78.09" x2="476.80" y2="78.09" stroke="#000" stroke-width="1.6" />
<rect x="477.30" y="82.70" width="13.20" height="9.82" fill="#471c6e"/>
<rect x="489.90" y="82.70" width="13.10" height="9.82" fill="#482071"/>
<rect x="502.40" y="82.70" width="13.20" height="9.82" fill="#482071"/>
<rect x="515.00" y="82.70" width="13.20" height="9.82" fill="#62c95f"/>
<rect x="527.60" y="82.70" width="13.20" height="9.82" fill="#40bc72"/>
<rect x="540.20" y="82.70" width="13.30" height="9.82" fill="#40bc72"/>
<rect x="554.50" y="82.70" width="13.00" height="9.82" fill="#45095b"/>
<rect x="566.90" y="82.70" width="13.10" height="9.82" fill="#450d5f"/>
<rect x="579.40" y="82.70" width="13.40" height="9.82" fill="#21918c"/>
<rect x="592.20" y="82.70" width="13.40" height="9.82" fill="#219989"/>
<rect x="606.60" y="82.70" width="13.30" height="9.82" fill="#472877"/>
<rect x="619.30" y="82.70" width="13.20" height="9.82" fill="#482071"/>
<rect x="631.90" y="82.70" width="13.30" height="9.82" fill="#472877"/>
<rect x="646.30" y="82.70" width="13.20" height="9.82" fill="#31678d"/>
<rect x="658.90" y="82.70" width="13.10" height="9.82" fill="#2b758e"/>
<rect x="671.40" y="82.70" width="13.20" height="9.82" fill="#3c508a"/>
<text x="471.40" y="90.81" font-size="9.9" font-weight="normal" font-style="normal" text-anchor="end" fill="#111" >G 902</text>
<line x1="473.80" y1="87.31" x2="476.80" y2="87.31" stroke="#000" stroke-width="1.6" />
<rect x="477.30" y="91.92" width="13.20" height="9.82" fill="#31678d"/>
<rect x="489.90" y="91.92" width="13.10" height="9.82" fill="#2b758e"/>
<rect x="502.40" y="91.92" width="13.20" height="9.82" fill="#31678d"/>
<rect x="515.00" y="91.92" width="13.20" height="9.82" fill="#7ad151"/>
<rect x="527.60" y="91.92" width="13.20" height="9.82" fill="#56c566"/>
<rect x="540.20" y="91.92" width="13.30" height="9.82" fill="#22a386"/>
<rect x="554.50" y="91.92" width="13.00" height="9.82" fill="#3e4a88"/>
<rect x="566.90" y="91.92" width="13.10" height="9.82" fill="#3e4a88"/>
<rect x="579.40" y="91.92" width="13.40" height="9.82" fill="#21918c"/>
<rect x="592.20" y="91.92" width="13.40" height="9.82" fill="#24898d"/>
<rect x="606.60" y="91.92" width="13.30" height="9.82" fill="#462f7b"/>
<rect x="619.30" y="91.92" width="13.20" height="9.82" fill="#462f7b"/>
<rect x="631.90" y="91.92" width="13.30" height="9.82" fill="#414487"/>
<rect x="646.30" y="91.92" width="13.20" height="9.82" fill="#2b758e"/>
<rect x="658.90" y="91.92" width="13.10" height="9.82" fill="#287e8e"/>
<rect x="671.40" y="91.92" width="13.20" height="9.82" fill="#31678d"/>
<text x="471.40" y="100.03" font-size="9.9" font-weight="normal" font-style="normal" text-anchor="end" fill="#111" >G 1448</text>
<line x1="473.80" y1="96.53" x2="476.80" y2="96.53" stroke="#000" stroke-width="1.6" />
<rect x="477.30" y="101.14" width="13.20" height="9.82" fill="#472877"/>
<rect x="489.90" y="101.14" width="13.10" height="9.82" fill="#462f7b"/>
<rect x="502.40" y="101.14" width="13.20" height="9.82" fill="#433981"/>
<rect x="515.00" y="101.14" width="13.20" height="9.82" fill="#21918c"/>
<rect x="527.60" y="101.14" width="13.20" height="9.82" fill="#24898d"/>
<rect x="540.20" y="101.14" width="13.30" height="9.82" fill="#26838d"/>
<rect x="554.50" y="101.14" width="13.00" height="9.82" fill="#472877"/>
<rect x="566.90" y="101.14" width="13.10" height="9.82" fill="#433981"/>
<rect x="579.40" y="101.14" width="13.40" height="9.82" fill="#31b27b"/>
<rect x="592.20" y="101.14" width="13.40" height="9.82" fill="#62c95f"/>
<rect x="606.60" y="101.14" width="13.30" height="9.82" fill="#482071"/>
<rect x="619.30" y="101.14" width="13.20" height="9.82" fill="#482071"/>
<rect x="631.90" y="101.14" width="13.30" height="9.82" fill="#414487"/>
<rect x="646.30" y="101.14" width="13.20" height="9.82" fill="#fde725"/>
<rect x="658.90" y="101.14" width="13.10" height="9.82" fill="#56c566"/>
<rect x="671.40" y="101.14" width="13.20" height="9.82" fill="#56c566"/>
<text x="471.40" y="109.25" font-size="9.9" font-weight="normal" font-style="normal" text-anchor="end" fill="#111" >G 1536</text>
<line x1="473.80" y1="105.75" x2="476.80" y2="105.75" stroke="#000" stroke-width="1.6" />
<rect x="477.30" y="110.36" width="13.20" height="9.82" fill="#3e4a88"/>
<rect x="489.90" y="110.36" width="13.10" height="9.82" fill="#3c508a"/>
<rect x="502.40" y="110.36" width="13.20" height="9.82" fill="#3c508a"/>
<rect x="515.00" y="110.36" width="13.20" height="9.82" fill="#56c566"/>
<rect x="527.60" y="110.36" width="13.20" height="9.82" fill="#56c566"/>
<rect x="540.20" y="110.36" width="13.30" height="9.82" fill="#40bc72"/>
<rect x="554.50" y="110.36" width="13.00" height="9.82" fill="#414487"/>
<rect x="566.90" y="110.36" width="13.10" height="9.82" fill="#3c508a"/>
<rect x="579.40" y="110.36" width="13.40" height="9.82" fill="#229e88"/>
<rect x="592.20" y="110.36" width="13.40" height="9.82" fill="#21918c"/>
<rect x="606.60" y="110.36" width="13.30" height="9.82" fill="#3e4a88"/>
<rect x="619.30" y="110.36" width="13.20" height="9.82" fill="#3e4a88"/>
<rect x="631.90" y="110.36" width="13.30" height="9.82" fill="#433981"/>
<rect x="646.30" y="110.36" width="13.20" height="9.82" fill="#26ab82"/>
<rect x="658.90" y="110.36" width="13.10" height="9.82" fill="#26838d"/>
<rect x="671.40" y="110.36" width="13.20" height="9.82" fill="#2b758e"/>
<text x="471.40" y="118.47" font-size="9.9" font-weight="normal" font-style="normal" text-anchor="end" fill="#111" >G 1610</text>
<line x1="473.80" y1="114.97" x2="476.80" y2="114.97" stroke="#000" stroke-width="1.6" />
<rect x="477.30" y="119.58" width="13.20" height="9.82" fill="#482071"/>
<rect x="489.90" y="119.58" width="13.10" height="9.82" fill="#433981"/>
<rect x="502.40" y="119.58" width="13.20" height="9.82" fill="#482071"/>
<rect x="515.00" y="119.58" width="13.20" height="9.82" fill="#56c566"/>
<rect x="527.60" y="119.58" width="13.20" height="9.82" fill="#62c95f"/>
<rect x="540.20" y="119.58" width="13.30" height="9.82" fill="#31b27b"/>
<rect x="554.50" y="119.58" width="13.00" height="9.82" fill="#462f7b"/>
<rect x="566.90" y="119.58" width="13.10" height="9.82" fill="#472877"/>
<rect x="579.40" y="119.58" width="13.40" height="9.82" fill="#26838d"/>
<rect x="592.20" y="119.58" width="13.40" height="9.82" fill="#2b758e"/>
<rect x="606.60" y="119.58" width="13.30" height="9.82" fill="#472877"/>
<rect x="619.30" y="119.58" width="13.20" height="9.82" fill="#461466"/>
<rect x="631.90" y="119.58" width="13.30" height="9.82" fill="#472877"/>
<rect x="646.30" y="119.58" width="13.20" height="9.82" fill="#3c508a"/>
<rect x="658.90" y="119.58" width="13.10" height="9.82" fill="#414487"/>
<rect x="671.40" y="119.58" width="13.20" height="9.82" fill="#26838d"/>
<text x="471.40" y="127.69" font-size="9.9" font-weight="normal" font-style="normal" text-anchor="end" fill="#111" >G 1658</text>
<line x1="473.80" y1="124.19" x2="476.80" y2="124.19" stroke="#000" stroke-width="1.6" />
<text x="385.60" y="84.00" font-size="9.75" font-weight="bold" font-style="normal" text-anchor="start" fill="#111" >18S rRNA</text>
<rect x="477.30" y="131.00" width="13.20" height="9.81" fill="#34628d"/>
<rect x="489.90" y="131.00" width="13.10" height="9.81" fill="#3c508a"/>
<rect x="502.40" y="131.00" width="13.20" height="9.81" fill="#31678d"/>
<rect x="515.00" y="131.00" width="13.20" height="9.81" fill="#90d643"/>
<rect x="527.60" y="131.00" width="13.20" height="9.81" fill="#31b27b"/>
<rect x="540.20" y="131.00" width="13.30" height="9.81" fill="#50c369"/>
<rect x="554.50" y="131.00" width="13.00" height="9.81" fill="#31678d"/>
<rect x="566.90" y="131.00" width="13.10" height="9.81" fill="#3e4a88"/>
<rect x="579.40" y="131.00" width="13.40" height="9.81" fill="#40bc72"/>
<rect x="592.20" y="131.00" width="13.40" height="9.81" fill="#39b777"/>
<rect x="606.60" y="131.00" width="13.30" height="9.81" fill="#3e4a88"/>
<rect x="619.30" y="131.00" width="13.20" height="9.81" fill="#462f7b"/>
<rect x="631.90" y="131.00" width="13.30" height="9.81" fill="#38598c"/>
<rect x="646.30" y="131.00" width="13.20" height="9.81" fill="#31b27b"/>
<rect x="658.90" y="131.00" width="13.10" height="9.81" fill="#22a386"/>
<rect x="671.40" y="131.00" width="13.20" height="9.81" fill="#287e8e"/>
<text x="471.40" y="139.10" font-size="9.9" font-weight="normal" font-style="normal" text-anchor="end" fill="#111" >G 212</text>
<line x1="473.80" y1="135.60" x2="476.80" y2="135.60" stroke="#000" stroke-width="1.6" />
<rect x="477.30" y="140.21" width="13.20" height="9.81" fill="#34628d"/>
<rect x="489.90" y="140.21" width="13.10" height="9.81" fill="#3c508a"/>
<rect x="502.40" y="140.21" width="13.20" height="9.81" fill="#3c508a"/>
<rect x="515.00" y="140.21" width="13.20" height="9.81" fill="#d9e326"/>
<rect x="527.60" y="140.21" width="13.20" height="9.81" fill="#fde725"/>
<rect x="540.20" y="140.21" width="13.30" height="9.81" fill="#d2e226"/>
<rect x="554.50" y="140.21" width="13.00" height="9.81" fill="#31678d"/>
<rect x="566.90" y="140.21" width="13.10" height="9.81" fill="#287e8e"/>
<rect x="579.40" y="140.21" width="13.40" height="9.81" fill="#39b777"/>
<rect x="592.20" y="140.21" width="13.40" height="9.81" fill="#31b27b"/>
<rect x="606.60" y="140.21" width="13.30" height="9.81" fill="#31678d"/>
<rect x="619.30" y="140.21" width="13.20" height="9.81" fill="#31678d"/>
<rect x="631.90" y="140.21" width="13.30" height="9.81" fill="#31678d"/>
<rect x="646.30" y="140.21" width="13.20" height="9.81" fill="#90d643"/>
<rect x="658.90" y="140.21" width="13.10" height="9.81" fill="#31678d"/>
<rect x="671.40" y="140.21" width="13.20" height="9.81" fill="#fde725"/>
<text x="471.40" y="148.31" font-size="9.9" font-weight="normal" font-style="normal" text-anchor="end" fill="#111" >G 452</text>
<line x1="473.80" y1="144.81" x2="476.80" y2="144.81" stroke="#000" stroke-width="1.6" />
<rect x="477.30" y="149.42" width="13.20" height="9.81" fill="#433981"/>
<rect x="489.90" y="149.42" width="13.10" height="9.81" fill="#433981"/>
<rect x="502.40" y="149.42" width="13.20" height="9.81" fill="#433981"/>
<rect x="515.00" y="149.42" width="13.20" height="9.81" fill="#d2e226"/>
<rect x="527.60" y="149.42" width="13.20" height="9.81" fill="#7ad151"/>
<rect x="540.20" y="149.42" width="13.30" height="9.81" fill="#90d643"/>
<rect x="554.50" y="149.42" width="13.00" height="9.81" fill="#472877"/>
<rect x="566.90" y="149.42" width="13.10" height="9.81" fill="#462f7b"/>
<rect x="579.40" y="149.42" width="13.40" height="9.81" fill="#7ad151"/>
<rect x="592.20" y="149.42" width="13.40" height="9.81" fill="#a7da34"/>
<rect x="606.60" y="149.42" width="13.30" height="9.81" fill="#3c508a"/>
<rect x="619.30" y="149.42" width="13.20" height="9.81" fill="#2b758e"/>
<rect x="631.90" y="149.42" width="13.30" height="9.81" fill="#2b758e"/>
<rect x="646.30" y="149.42" width="13.20" height="9.81" fill="#26838d"/>
<rect x="658.90" y="149.42" width="13.10" height="9.81" fill="#24898d"/>
<rect x="671.40" y="149.42" width="13.20" height="9.81" fill="#24898d"/>
<text x="471.40" y="157.52" font-size="9.9" font-weight="normal" font-style="normal" text-anchor="end" fill="#111" >G 568</text>
<line x1="473.80" y1="154.02" x2="476.80" y2="154.02" stroke="#000" stroke-width="1.6" />
<rect x="477.30" y="158.62" width="13.20" height="9.81" fill="#433981"/>
<rect x="489.90" y="158.62" width="13.10" height="9.81" fill="#3c508a"/>
<rect x="502.40" y="158.62" width="13.20" height="9.81" fill="#433981"/>
<rect x="515.00" y="158.62" width="13.20" height="9.81" fill="#d2e226"/>
<rect x="527.60" y="158.62" width="13.20" height="9.81" fill="#90d643"/>
<rect x="540.20" y="158.62" width="13.30" height="9.81" fill="#90d643"/>
<rect x="554.50" y="158.62" width="13.00" height="9.81" fill="#472877"/>
<rect x="566.90" y="158.62" width="13.10" height="9.81" fill="#471c6e"/>
<rect x="579.40" y="158.62" width="13.40" height="9.81" fill="#22a386"/>
<rect x="592.20" y="158.62" width="13.40" height="9.81" fill="#22a386"/>
<rect x="606.60" y="158.62" width="13.30" height="9.81" fill="#433981"/>
<rect x="619.30" y="158.62" width="13.20" height="9.81" fill="#414487"/>
<rect x="631.90" y="158.62" width="13.30" height="9.81" fill="#414487"/>
<rect x="646.30" y="158.62" width="13.20" height="9.81" fill="#bddf26"/>
<rect x="658.90" y="158.62" width="13.10" height="9.81" fill="#50c369"/>
<rect x="671.40" y="158.62" width="13.20" height="9.81" fill="#22a386"/>
<text x="471.40" y="166.73" font-size="9.9" font-weight="normal" font-style="normal" text-anchor="end" fill="#111" >G 1131</text>
<line x1="473.80" y1="163.23" x2="476.80" y2="163.23" stroke="#000" stroke-width="1.6" />
<rect x="477.30" y="167.83" width="13.20" height="9.81" fill="#433981"/>
<rect x="489.90" y="167.83" width="13.10" height="9.81" fill="#38598c"/>
<rect x="502.40" y="167.83" width="13.20" height="9.81" fill="#3e4a88"/>
<rect x="515.00" y="167.83" width="13.20" height="9.81" fill="#6ecd58"/>
<rect x="527.60" y="167.83" width="13.20" height="9.81" fill="#62c95f"/>
<rect x="540.20" y="167.83" width="13.30" height="9.81" fill="#50c369"/>
<rect x="554.50" y="167.83" width="13.00" height="9.81" fill="#472877"/>
<rect x="566.90" y="167.83" width="13.10" height="9.81" fill="#471c6e"/>
<rect x="579.40" y="167.83" width="13.40" height="9.81" fill="#22a386"/>
<rect x="592.20" y="167.83" width="13.40" height="9.81" fill="#22a386"/>
<rect x="606.60" y="167.83" width="13.30" height="9.81" fill="#461466"/>
<rect x="619.30" y="167.83" width="13.20" height="9.81" fill="#471c6e"/>
<rect x="631.90" y="167.83" width="13.30" height="9.81" fill="#472877"/>
<rect x="646.30" y="167.83" width="13.20" height="9.81" fill="#31678d"/>
<rect x="658.90" y="167.83" width="13.10" height="9.81" fill="#38598c"/>
<rect x="671.40" y="167.83" width="13.20" height="9.81" fill="#31678d"/>
<text x="471.40" y="175.94" font-size="9.9" font-weight="normal" font-style="normal" text-anchor="end" fill="#111" >G 1152</text>
<line x1="473.80" y1="172.44" x2="476.80" y2="172.44" stroke="#000" stroke-width="1.6" />
<rect x="477.30" y="177.04" width="13.20" height="9.81" fill="#433981"/>
<rect x="489.90" y="177.04" width="13.10" height="9.81" fill="#38598c"/>
<rect x="502.40" y="177.04" width="13.20" height="9.81" fill="#462f7b"/>
<rect x="515.00" y="177.04" width="13.20" height="9.81" fill="#90d643"/>
<rect x="527.60" y="177.04" width="13.20" height="9.81" fill="#90d643"/>
<rect x="540.20" y="177.04" width="13.30" height="9.81" fill="#50c369"/>
<rect x="554.50" y="177.04" width="13.00" height="9.81" fill="#482071"/>
<rect x="566.90" y="177.04" width="13.10" height="9.81" fill="#472877"/>
<rect x="579.40" y="177.04" width="13.40" height="9.81" fill="#2f6d8e"/>
<rect x="592.20" y="177.04" width="13.40" height="9.81" fill="#31678d"/>
<rect x="606.60" y="177.04" width="13.30" height="9.81" fill="#472877"/>
<rect x="619.30" y="177.04" width="13.20" height="9.81" fill="#472877"/>
<rect x="631.90" y="177.04" width="13.30" height="9.81" fill="#472877"/>
<rect x="646.30" y="177.04" width="13.20" height="9.81" fill="#31678d"/>
<rect x="658.90" y="177.04" width="13.10" height="9.81" fill="#34628d"/>
<rect x="671.40" y="177.04" width="13.20" height="9.81" fill="#414487"/>
<text x="471.40" y="185.15" font-size="9.9" font-weight="normal" font-style="normal" text-anchor="end" fill="#111" >G 1222</text>
<line x1="473.80" y1="181.65" x2="476.80" y2="181.65" stroke="#000" stroke-width="1.6" />
<rect x="477.30" y="186.25" width="13.20" height="9.81" fill="#2b758e"/>
<rect x="489.90" y="186.25" width="13.10" height="9.81" fill="#287e8e"/>
<rect x="502.40" y="186.25" width="13.20" height="9.81" fill="#287e8e"/>
<rect x="515.00" y="186.25" width="13.20" height="9.81" fill="#39b777"/>
<rect x="527.60" y="186.25" width="13.20" height="9.81" fill="#26ab82"/>
<rect x="540.20" y="186.25" width="13.30" height="9.81" fill="#50c369"/>
<rect x="554.50" y="186.25" width="13.00" height="9.81" fill="#3e4a88"/>
<rect x="566.90" y="186.25" width="13.10" height="9.81" fill="#31678d"/>
<rect x="579.40" y="186.25" width="13.40" height="9.81" fill="#287e8e"/>
<rect x="592.20" y="186.25" width="13.40" height="9.81" fill="#26838d"/>
<rect x="606.60" y="186.25" width="13.30" height="9.81" fill="#26838d"/>
<rect x="619.30" y="186.25" width="13.20" height="9.81" fill="#229e88"/>
<rect x="631.90" y="186.25" width="13.30" height="9.81" fill="#21918c"/>
<rect x="646.30" y="186.25" width="13.20" height="9.81" fill="#62c95f"/>
<rect x="658.90" y="186.25" width="13.10" height="9.81" fill="#62c95f"/>
<rect x="671.40" y="186.25" width="13.20" height="9.81" fill="#39b777"/>
<text x="471.40" y="194.35" font-size="9.9" font-weight="normal" font-style="normal" text-anchor="end" fill="#111" >G 1507</text>
<line x1="473.80" y1="190.85" x2="476.80" y2="190.85" stroke="#000" stroke-width="1.6" />
<rect x="477.30" y="195.46" width="13.20" height="9.81" fill="#31678d"/>
<rect x="489.90" y="195.46" width="13.10" height="9.81" fill="#31678d"/>
<rect x="502.40" y="195.46" width="13.20" height="9.81" fill="#287e8e"/>
<rect x="515.00" y="195.46" width="13.20" height="9.81" fill="#d2e226"/>
<rect x="527.60" y="195.46" width="13.20" height="9.81" fill="#d2e226"/>
<rect x="540.20" y="195.46" width="13.30" height="9.81" fill="#d9e326"/>
<rect x="554.50" y="195.46" width="13.00" height="9.81" fill="#3e4a88"/>
<rect x="566.90" y="195.46" width="13.10" height="9.81" fill="#3c508a"/>
<rect x="579.40" y="195.46" width="13.40" height="9.81" fill="#62c95f"/>
<rect x="592.20" y="195.46" width="13.40" height="9.81" fill="#39b777"/>
<rect x="606.60" y="195.46" width="13.30" height="9.81" fill="#414487"/>
<rect x="619.30" y="195.46" width="13.20" height="9.81" fill="#3c508a"/>
<rect x="631.90" y="195.46" width="13.30" height="9.81" fill="#414487"/>
<rect x="646.30" y="195.46" width="13.20" height="9.81" fill="#21918c"/>
<rect x="658.90" y="195.46" width="13.10" height="9.81" fill="#34628d"/>
<rect x="671.40" y="195.46" width="13.20" height="9.81" fill="#2f6d8e"/>
<text x="471.40" y="203.56" font-size="9.9" font-weight="normal" font-style="normal" text-anchor="end" fill="#111" >G 1655</text>
<line x1="473.80" y1="200.06" x2="476.80" y2="200.06" stroke="#000" stroke-width="1.6" />
<rect x="477.30" y="204.67" width="13.20" height="9.81" fill="#287e8e"/>
<rect x="489.90" y="204.67" width="13.10" height="9.81" fill="#287e8e"/>
<rect x="502.40" y="204.67" width="13.20" height="9.81" fill="#287e8e"/>
<rect x="515.00" y="204.67" width="13.20" height="9.81" fill="#fde725"/>
<rect x="527.60" y="204.67" width="13.20" height="9.81" fill="#e1e325"/>
<rect x="540.20" y="204.67" width="13.30" height="9.81" fill="#d9e326"/>
<rect x="554.50" y="204.67" width="13.00" height="9.81" fill="#3c508a"/>
<rect x="566.90" y="204.67" width="13.10" height="9.81" fill="#2b758e"/>
<rect x="579.40" y="204.67" width="13.40" height="9.81" fill="#c8e026"/>
<rect x="592.20" y="204.67" width="13.40" height="9.81" fill="#bddf26"/>
<rect x="606.60" y="204.67" width="13.30" height="9.81" fill="#21918c"/>
<rect x="619.30" y="204.67" width="13.20" height="9.81" fill="#26ab82"/>
<rect x="631.90" y="204.67" width="13.30" height="9.81" fill="#21918c"/>
<rect x="646.30" y="204.67" width="13.20" height="9.81" fill="#d9e326"/>
<rect x="658.90" y="204.67" width="13.10" height="9.81" fill="#e1e325"/>
<rect x="671.40" y="204.67" width="13.20" height="9.81" fill="#bddf26"/>
<text x="471.40" y="212.77" font-size="9.9" font-weight="normal" font-style="normal" text-anchor="end" fill="#111" >G 2079</text>
<line x1="473.80" y1="209.27" x2="476.80" y2="209.27" stroke="#000" stroke-width="1.6" />
<rect x="477.30" y="213.88" width="13.20" height="9.81" fill="#461466"/>
<rect x="489.90" y="213.88" width="13.10" height="9.81" fill="#45095b"/>
<rect x="502.40" y="213.88" width="13.20" height="9.81" fill="#472877"/>
<rect x="515.00" y="213.88" width="13.20" height="9.81" fill="#22a386"/>
<rect x="527.60" y="213.88" width="13.20" height="9.81" fill="#21918c"/>
<rect x="540.20" y="213.88" width="13.30" height="9.81" fill="#24898d"/>
<rect x="554.50" y="213.88" width="13.00" height="9.81" fill="#440154"/>
<rect x="566.90" y="213.88" width="13.10" height="9.81" fill="#440154"/>
<rect x="579.40" y="213.88" width="13.40" height="9.81" fill="#2b758e"/>
<rect x="592.20" y="213.88" width="13.40" height="9.81" fill="#2f6d8e"/>
<rect x="606.60" y="213.88" width="13.30" height="9.81" fill="#461466"/>
<rect x="619.30" y="213.88" width="13.20" height="9.81" fill="#482071"/>
<rect x="631.90" y="213.88" width="13.30" height="9.81" fill="#482071"/>
<rect x="646.30" y="213.88" width="13.20" height="9.81" fill="#7ad151"/>
<rect x="658.90" y="213.88" width="13.10" height="9.81" fill="#22a386"/>
<rect x="671.40" y="213.88" width="13.20" height="9.81" fill="#229e88"/>
<text x="471.40" y="221.98" font-size="9.9" font-weight="normal" font-style="normal" text-anchor="end" fill="#111" >G 2169</text>
<line x1="473.80" y1="218.48" x2="476.80" y2="218.48" stroke="#000" stroke-width="1.6" />
<rect x="477.30" y="223.08" width="13.20" height="9.81" fill="#38598c"/>
<rect x="489.90" y="223.08" width="13.10" height="9.81" fill="#31678d"/>
<rect x="502.40" y="223.08" width="13.20" height="9.81" fill="#2b758e"/>
<rect x="515.00" y="223.08" width="13.20" height="9.81" fill="#21918c"/>
<rect x="527.60" y="223.08" width="13.20" height="9.81" fill="#21918c"/>
<rect x="540.20" y="223.08" width="13.30" height="9.81" fill="#229e88"/>
<rect x="554.50" y="223.08" width="13.00" height="9.81" fill="#34628d"/>
<rect x="566.90" y="223.08" width="13.10" height="9.81" fill="#2b758e"/>
<rect x="579.40" y="223.08" width="13.40" height="9.81" fill="#22a386"/>
<rect x="592.20" y="223.08" width="13.40" height="9.81" fill="#39b777"/>
<rect x="606.60" y="223.08" width="13.30" height="9.81" fill="#2f6d8e"/>
<rect x="619.30" y="223.08" width="13.20" height="9.81" fill="#21918c"/>
<rect x="631.90" y="223.08" width="13.30" height="9.81" fill="#26838d"/>
<rect x="646.30" y="223.08" width="13.20" height="9.81" fill="#7ad151"/>
<rect x="658.90" y="223.08" width="13.10" height="9.81" fill="#39b777"/>
<rect x="671.40" y="223.08" width="13.20" height="9.81" fill="#22a386"/>
<text x="471.40" y="231.19" font-size="9.9" font-weight="normal" font-style="normal" text-anchor="end" fill="#111" >G 2951</text>
<line x1="473.80" y1="227.69" x2="476.80" y2="227.69" stroke="#000" stroke-width="1.6" />
<rect x="477.30" y="232.29" width="13.20" height="9.81" fill="#450d5f"/>
<rect x="489.90" y="232.29" width="13.10" height="9.81" fill="#461466"/>
<rect x="502.40" y="232.29" width="13.20" height="9.81" fill="#461466"/>
<rect x="515.00" y="232.29" width="13.20" height="9.81" fill="#22a386"/>
<rect x="527.60" y="232.29" width="13.20" height="9.81" fill="#219989"/>
<rect x="540.20" y="232.29" width="13.30" height="9.81" fill="#21918c"/>
<rect x="554.50" y="232.29" width="13.00" height="9.81" fill="#462f7b"/>
<rect x="566.90" y="232.29" width="13.10" height="9.81" fill="#414487"/>
<rect x="579.40" y="232.29" width="13.40" height="9.81" fill="#26ab82"/>
<rect x="592.20" y="232.29" width="13.40" height="9.81" fill="#22a386"/>
<rect x="606.60" y="232.29" width="13.30" height="9.81" fill="#31678d"/>
<rect x="619.30" y="232.29" width="13.20" height="9.81" fill="#26838d"/>
<rect x="631.90" y="232.29" width="13.30" height="9.81" fill="#26838d"/>
<rect x="646.30" y="232.29" width="13.20" height="9.81" fill="#7ad151"/>
<rect x="658.90" y="232.29" width="13.10" height="9.81" fill="#7ad151"/>
<rect x="671.40" y="232.29" width="13.20" height="9.81" fill="#bddf26"/>
<text x="471.40" y="240.40" font-size="9.9" font-weight="normal" font-style="normal" text-anchor="end" fill="#111" >G 3377</text>
<line x1="473.80" y1="236.90" x2="476.80" y2="236.90" stroke="#000" stroke-width="1.6" />
<text x="385.60" y="187.75" font-size="9.75" font-weight="bold" font-style="normal" text-anchor="start" fill="#111" >25S rRNA</text>
<rect x="477.30" y="244.20" width="13.20" height="10.00" fill="#3e4a88"/>
<rect x="489.90" y="244.20" width="13.10" height="10.00" fill="#3e4a88"/>
<rect x="502.40" y="244.20" width="13.20" height="10.00" fill="#3e4a88"/>
<rect x="515.00" y="244.20" width="13.20" height="10.00" fill="#21918c"/>
<rect x="527.60" y="244.20" width="13.20" height="10.00" fill="#21918c"/>
<rect x="540.20" y="244.20" width="13.30" height="10.00" fill="#21918c"/>
<rect x="554.50" y="244.20" width="13.00" height="10.00" fill="#34628d"/>
<rect x="566.90" y="244.20" width="13.10" height="10.00" fill="#2f6d8e"/>
<rect x="579.40" y="244.20" width="13.40" height="10.00" fill="#40bc72"/>
<rect x="592.20" y="244.20" width="13.40" height="10.00" fill="#26ab82"/>
<rect x="606.60" y="244.20" width="13.30" height="10.00" fill="#2f6d8e"/>
<rect x="619.30" y="244.20" width="13.20" height="10.00" fill="#2f6d8e"/>
<rect x="631.90" y="244.20" width="13.30" height="10.00" fill="#34628d"/>
<rect x="646.30" y="244.20" width="13.20" height="10.00" fill="#40bc72"/>
<rect x="658.90" y="244.20" width="13.10" height="10.00" fill="#40bc72"/>
<rect x="671.40" y="244.20" width="13.20" height="10.00" fill="#31b27b"/>
<text x="471.40" y="252.40" font-size="9.9" font-weight="normal" font-style="normal" text-anchor="end" fill="#111" >G 107</text>
<line x1="473.80" y1="248.90" x2="476.80" y2="248.90" stroke="#000" stroke-width="1.6" />
<rect x="477.30" y="253.60" width="13.20" height="10.00" fill="#3e4a88"/>
<rect x="489.90" y="253.60" width="13.10" height="10.00" fill="#34628d"/>
<rect x="502.40" y="253.60" width="13.20" height="10.00" fill="#34628d"/>
<rect x="515.00" y="253.60" width="13.20" height="10.00" fill="#229e88"/>
<rect x="527.60" y="253.60" width="13.20" height="10.00" fill="#24898d"/>
<rect x="540.20" y="253.60" width="13.30" height="10.00" fill="#24898d"/>
<rect x="554.50" y="253.60" width="13.00" height="10.00" fill="#414487"/>
<rect x="566.90" y="253.60" width="13.10" height="10.00" fill="#3e4a88"/>
<rect x="579.40" y="253.60" width="13.40" height="10.00" fill="#39b777"/>
<rect x="592.20" y="253.60" width="13.40" height="10.00" fill="#229e88"/>
<rect x="606.60" y="253.60" width="13.30" height="10.00" fill="#462f7b"/>
<rect x="619.30" y="253.60" width="13.20" height="10.00" fill="#3e4a88"/>
<rect x="631.90" y="253.60" width="13.30" height="10.00" fill="#472877"/>
<rect x="646.30" y="253.60" width="13.20" height="10.00" fill="#50c369"/>
<rect x="658.90" y="253.60" width="13.10" height="10.00" fill="#50c369"/>
<rect x="671.40" y="253.60" width="13.20" height="10.00" fill="#89d447"/>
<text x="471.40" y="261.80" font-size="9.9" font-weight="normal" font-style="normal" text-anchor="end" fill="#111" >G 140</text>
<line x1="473.80" y1="258.30" x2="476.80" y2="258.30" stroke="#000" stroke-width="1.6" />
<rect x="477.30" y="263.00" width="13.20" height="10.00" fill="#287e8e"/>
<rect x="489.90" y="263.00" width="13.10" height="10.00" fill="#287e8e"/>
<rect x="502.40" y="263.00" width="13.20" height="10.00" fill="#287e8e"/>
<rect x="515.00" y="263.00" width="13.20" height="10.00" fill="#6ecd58"/>
<rect x="527.60" y="263.00" width="13.20" height="10.00" fill="#40bc72"/>
<rect x="540.20" y="263.00" width="13.30" height="10.00" fill="#40bc72"/>
<rect x="554.50" y="263.00" width="13.00" height="10.00" fill="#31678d"/>
<rect x="566.90" y="263.00" width="13.10" height="10.00" fill="#2f6d8e"/>
<rect x="579.40" y="263.00" width="13.40" height="10.00" fill="#2f6d8e"/>
<rect x="592.20" y="263.00" width="13.40" height="10.00" fill="#2f6d8e"/>
<rect x="606.60" y="263.00" width="13.30" height="10.00" fill="#2f6d8e"/>
<rect x="619.30" y="263.00" width="13.20" height="10.00" fill="#2f6d8e"/>
<rect x="631.90" y="263.00" width="13.30" height="10.00" fill="#2f6d8e"/>
<rect x="646.30" y="263.00" width="13.20" height="10.00" fill="#287e8e"/>
<rect x="658.90" y="263.00" width="13.10" height="10.00" fill="#24898d"/>
<rect x="671.40" y="263.00" width="13.20" height="10.00" fill="#2b758e"/>
<text x="471.40" y="271.20" font-size="9.9" font-weight="normal" font-style="normal" text-anchor="end" fill="#111" >G 144</text>
<line x1="473.80" y1="267.70" x2="476.80" y2="267.70" stroke="#000" stroke-width="1.6" />
<text x="384.90" y="261.00" font-size="9.75" font-weight="bold" font-style="normal" text-anchor="start" fill="#111" >5.8S rRNA</text>
<rect x="477.30" y="274.90" width="13.20" height="9.60" fill="#2b758e"/>
<rect x="489.90" y="274.90" width="13.10" height="9.60" fill="#287e8e"/>
<rect x="502.40" y="274.90" width="13.20" height="9.60" fill="#287e8e"/>
<rect x="515.00" y="274.90" width="13.20" height="9.60" fill="#229e88"/>
<rect x="527.60" y="274.90" width="13.20" height="9.60" fill="#21918c"/>
<rect x="540.20" y="274.90" width="13.30" height="9.60" fill="#229e88"/>
<rect x="554.50" y="274.90" width="13.00" height="9.60" fill="#2b758e"/>
<rect x="566.90" y="274.90" width="13.10" height="9.60" fill="#26838d"/>
<rect x="579.40" y="274.90" width="13.40" height="9.60" fill="#24898d"/>
<rect x="592.20" y="274.90" width="13.40" height="9.60" fill="#229e88"/>
<rect x="606.60" y="274.90" width="13.30" height="9.60" fill="#229e88"/>
<rect x="619.30" y="274.90" width="13.20" height="9.60" fill="#26ab82"/>
<rect x="631.90" y="274.90" width="13.30" height="9.60" fill="#26ab82"/>
<rect x="646.30" y="274.90" width="13.20" height="9.60" fill="#40bc72"/>
<rect x="658.90" y="274.90" width="13.10" height="9.60" fill="#56c566"/>
<rect x="671.40" y="274.90" width="13.20" height="9.60" fill="#40bc72"/>
<text x="471.40" y="282.90" font-size="9.9" font-weight="normal" font-style="normal" text-anchor="end" fill="#111" >G 37</text>
<line x1="473.80" y1="279.40" x2="476.80" y2="279.40" stroke="#000" stroke-width="1.6" />
<rect x="477.30" y="283.90" width="13.20" height="9.60" fill="#462f7b"/>
<rect x="489.90" y="283.90" width="13.10" height="9.60" fill="#462f7b"/>
<rect x="502.40" y="283.90" width="13.20" height="9.60" fill="#472877"/>
<rect x="515.00" y="283.90" width="13.20" height="9.60" fill="#31b27b"/>
<rect x="527.60" y="283.90" width="13.20" height="9.60" fill="#26ab82"/>
<rect x="540.20" y="283.90" width="13.30" height="9.60" fill="#22a386"/>
<rect x="554.50" y="283.90" width="13.00" height="9.60" fill="#440154"/>
<rect x="566.90" y="283.90" width="13.10" height="9.60" fill="#45095b"/>
<rect x="579.40" y="283.90" width="13.40" height="9.60" fill="#50c369"/>
<rect x="592.20" y="283.90" width="13.40" height="9.60" fill="#31b27b"/>
<rect x="606.60" y="283.90" width="13.30" height="9.60" fill="#461466"/>
<rect x="619.30" y="283.90" width="13.20" height="9.60" fill="#482071"/>
<rect x="631.90" y="283.90" width="13.30" height="9.60" fill="#461466"/>
<rect x="646.30" y="283.90" width="13.20" height="9.60" fill="#219989"/>
<rect x="658.90" y="283.90" width="13.10" height="9.60" fill="#24898d"/>
<rect x="671.40" y="283.90" width="13.20" height="9.60" fill="#287e8e"/>
<text x="471.40" y="291.90" font-size="9.9" font-weight="normal" font-style="normal" text-anchor="end" fill="#111" >G 57</text>
<line x1="473.80" y1="288.40" x2="476.80" y2="288.40" stroke="#000" stroke-width="1.6" />
<rect x="477.30" y="292.90" width="13.20" height="9.60" fill="#2f6d8e"/>
<rect x="489.90" y="292.90" width="13.10" height="9.60" fill="#34628d"/>
<rect x="502.40" y="292.90" width="13.20" height="9.60" fill="#2b758e"/>
<rect x="515.00" y="292.90" width="13.20" height="9.60" fill="#26ab82"/>
<rect x="527.60" y="292.90" width="13.20" height="9.60" fill="#24898d"/>
<rect x="540.20" y="292.90" width="13.30" height="9.60" fill="#26ab82"/>
<rect x="554.50" y="292.90" width="13.00" height="9.60" fill="#287e8e"/>
<rect x="566.90" y="292.90" width="13.10" height="9.60" fill="#24898d"/>
<rect x="579.40" y="292.90" width="13.40" height="9.60" fill="#90d643"/>
<rect x="592.20" y="292.90" width="13.40" height="9.60" fill="#a7da34"/>
<rect x="606.60" y="292.90" width="13.30" height="9.60" fill="#31678d"/>
<rect x="619.30" y="292.90" width="13.20" height="9.60" fill="#287e8e"/>
<rect x="631.90" y="292.90" width="13.30" height="9.60" fill="#2b758e"/>
<rect x="646.30" y="292.90" width="13.20" height="9.60" fill="#2f6d8e"/>
<rect x="658.90" y="292.90" width="13.10" height="9.60" fill="#2b758e"/>
<rect x="671.40" y="292.90" width="13.20" height="9.60" fill="#2b758e"/>
<text x="471.40" y="300.90" font-size="9.9" font-weight="normal" font-style="normal" text-anchor="end" fill="#111" >G 82</text>
<line x1="473.80" y1="297.40" x2="476.80" y2="297.40" stroke="#000" stroke-width="1.6" />
<rect x="477.30" y="301.90" width="13.20" height="9.60" fill="#3e4a88"/>
<rect x="489.90" y="301.90" width="13.10" height="9.60" fill="#433981"/>
<rect x="502.40" y="301.90" width="13.20" height="9.60" fill="#433981"/>
<rect x="515.00" y="301.90" width="13.20" height="9.60" fill="#39b777"/>
<rect x="527.60" y="301.90" width="13.20" height="9.60" fill="#26ab82"/>
<rect x="540.20" y="301.90" width="13.30" height="9.60" fill="#22a386"/>
<rect x="554.50" y="301.90" width="13.00" height="9.60" fill="#287e8e"/>
<rect x="566.90" y="301.90" width="13.10" height="9.60" fill="#2f6d8e"/>
<rect x="579.40" y="301.90" width="13.40" height="9.60" fill="#98d73e"/>
<rect x="592.20" y="301.90" width="13.40" height="9.60" fill="#bddf26"/>
<rect x="606.60" y="301.90" width="13.30" height="9.60" fill="#482071"/>
<rect x="619.30" y="301.90" width="13.20" height="9.60" fill="#461466"/>
<rect x="631.90" y="301.90" width="13.30" height="9.60" fill="#482071"/>
<rect x="646.30" y="301.90" width="13.20" height="9.60" fill="#26ab82"/>
<rect x="658.90" y="301.90" width="13.10" height="9.60" fill="#26ab82"/>
<rect x="671.40" y="301.90" width="13.20" height="9.60" fill="#229e88"/>
<text x="471.40" y="309.90" font-size="9.9" font-weight="normal" font-style="normal" text-anchor="end" fill="#111" >G 85</text>
<line x1="473.80" y1="306.40" x2="476.80" y2="306.40" stroke="#000" stroke-width="1.6" />
<rect x="477.30" y="310.90" width="13.20" height="9.60" fill="#482071"/>
<rect x="489.90" y="310.90" width="13.10" height="9.60" fill="#482071"/>
<rect x="502.40" y="310.90" width="13.20" height="9.60" fill="#482071"/>
<rect x="515.00" y="310.90" width="13.20" height="9.60" fill="#24898d"/>
<rect x="527.60" y="310.90" width="13.20" height="9.60" fill="#2b758e"/>
<rect x="540.20" y="310.90" width="13.30" height="9.60" fill="#287e8e"/>
<rect x="554.50" y="310.90" width="13.00" height="9.60" fill="#462f7b"/>
<rect x="566.90" y="310.90" width="13.10" height="9.60" fill="#433981"/>
<rect x="579.40" y="310.90" width="13.40" height="9.60" fill="#24898d"/>
<rect x="592.20" y="310.90" width="13.40" height="9.60" fill="#287e8e"/>
<rect x="606.60" y="310.90" width="13.30" height="9.60" fill="#472877"/>
<rect x="619.30" y="310.90" width="13.20" height="9.60" fill="#472877"/>
<rect x="631.90" y="310.90" width="13.30" height="9.60" fill="#433981"/>
<rect x="646.30" y="310.90" width="13.20" height="9.60" fill="#40bc72"/>
<rect x="658.90" y="310.90" width="13.10" height="9.60" fill="#40bc72"/>
<rect x="671.40" y="310.90" width="13.20" height="9.60" fill="#26ab82"/>
<text x="471.40" y="318.90" font-size="9.9" font-weight="normal" font-style="normal" text-anchor="end" fill="#111" >G 91</text>
<line x1="473.80" y1="315.40" x2="476.80" y2="315.40" stroke="#000" stroke-width="1.6" />
<text x="385.60" y="300.00" font-size="9.75" font-weight="bold" font-style="normal" text-anchor="start" fill="#111" >5S rRNA</text>
<rect x="552.90" y="37.70" width="1.60" height="282.20" fill="#fff" stroke="none" stroke-width="1" />
<rect x="605.00" y="37.70" width="1.60" height="282.20" fill="#fff" stroke="none" stroke-width="1" />
<rect x="644.60" y="37.70" width="1.60" height="282.20" fill="#fff" stroke="none" stroke-width="1" />
<rect x="478.30" y="128.80" width="204.70" height="2.20" fill="#fff" stroke="none" stroke-width="1" />
<rect x="478.30" y="241.50" width="204.70" height="2.70" fill="#fff" stroke="none" stroke-width="1" />
<rect x="478.30" y="272.40" width="204.70" height="2.50" fill="#fff" stroke="none" stroke-width="1" />
<rect x="477.40" y="36.80" width="206.70" height="284.30" fill="none" stroke="#000" stroke-width="1.8" />
<defs><linearGradient id="vg" x1="0" x2="1" y1="0" y2="0"><stop offset="0.0" stop-color="#440154"/><stop offset="0.1" stop-color="#482475"/><stop offset="0.2" stop-color="#414487"/><stop offset="0.3" stop-color="#355f8d"/><stop offset="0.4" stop-color="#2a788e"/><stop offset="0.5" stop-color="#21918c"/><stop offset="0.6" stop-color="#22a884"/><stop offset="0.7" stop-color="#44bf70"/><stop offset="0.8" stop-color="#7ad151"/><stop offset="0.9" stop-color="#bddf26"/><stop offset="1.0" stop-color="#fde725"/></linearGradient></defs>
<rect x="477.20" y="327.00" width="206.20" height="13.90" fill="url(#vg)" stroke="#000" stroke-width="1.8" />
<line x1="510.90" y1="327.90" x2="510.90" y2="331.80" stroke="#000" stroke-width="2" />
<line x1="510.90" y1="336.20" x2="510.90" y2="340.00" stroke="#000" stroke-width="2" />
<text x="511.60" y="356.80" font-size="9.8" font-weight="bold" font-style="normal" text-anchor="middle" fill="#111" >2</text>
<line x1="569.80" y1="327.90" x2="569.80" y2="331.80" stroke="#000" stroke-width="2" />
<line x1="569.80" y1="336.20" x2="569.80" y2="340.00" stroke="#000" stroke-width="2" />
<text x="570.50" y="356.80" font-size="9.8" font-weight="bold" font-style="normal" text-anchor="middle" fill="#111" >4</text>
<line x1="628.50" y1="327.90" x2="628.50" y2="331.80" stroke="#000" stroke-width="2" />
<line x1="628.50" y1="336.20" x2="628.50" y2="340.00" stroke="#000" stroke-width="2" />
<text x="629.20" y="356.80" font-size="9.8" font-weight="bold" font-style="normal" text-anchor="middle" fill="#111" >6</text>
<text x="582.2" y="370.1" font-size="9.7" font-weight="bold" text-anchor="middle" fill="#1a1a1a">log<tspan font-size="5" dy="2.6">2</tspan><tspan dy="-2.6"> (NormGcounts)</tspan></text>
<text x="-0.70" y="387.20" font-size="10.3" font-weight="bold" font-style="normal" text-anchor="start" fill="#000" >c</text>
<text x="203.10" y="397.30" font-size="10" font-weight="bold" font-style="normal" text-anchor="middle" fill="#111" >5S rRNA</text>
<text x="186.70" y="612.15" font-size="8.5" font-weight="normal" font-style="normal" text-anchor="middle" fill="#454545" >G</text>
<text x="186.70" y="604.75" font-size="8.5" font-weight="normal" font-style="normal" text-anchor="middle" fill="#454545" >G</text>
<text x="186.70" y="597.35" font-size="8.5" font-weight="normal" font-style="normal" text-anchor="middle" fill="#454545" >U</text>
<text x="186.70" y="590.45" font-size="8.5" font-weight="normal" font-style="normal" text-anchor="middle" fill="#454545" >U</text>
<text x="186.70" y="583.05" font-size="8.5" font-weight="normal" font-style="normal" text-anchor="middle" fill="#454545" >G</text>
<text x="186.70" y="576.05" font-size="8.5" font-weight="normal" font-style="normal" text-anchor="middle" fill="#454545" >C</text>
<text x="186.70" y="568.65" font-size="8.5" font-weight="normal" font-style="normal" text-anchor="middle" fill="#454545" >G</text>
<text x="186.70" y="561.55" font-size="8.5" font-weight="normal" font-style="normal" text-anchor="middle" fill="#454545" >G</text>
<text x="186.70" y="553.45" font-size="8.5" font-weight="normal" font-style="normal" text-anchor="middle" fill="#454545" >C</text>
<text x="178.90" y="553.45" font-size="8.5" font-weight="normal" font-style="normal" text-anchor="middle" fill="#454545" >C</text>
<text x="171.90" y="549.15" font-size="8.5" font-weight="normal" font-style="normal" text-anchor="middle" fill="#454545" >A</text>
<text x="167.80" y="543.65" font-size="8.5" font-weight="normal" font-style="normal" text-anchor="middle" fill="#454545" >U</text>
<text x="167.80" y="536.15" font-size="8.5" font-weight="normal" font-style="normal" text-anchor="middle" fill="#454545" >A</text>
<text x="172.40" y="529.35" font-size="8.5" font-weight="normal" font-style="normal" text-anchor="middle" fill="#454545" >U</text>
<text x="166.90" y="524.75" font-size="8.5" font-weight="normal" font-style="normal" text-anchor="middle" fill="#454545" >C</text>
<text x="159.00" y="515.85" font-size="8.5" font-weight="normal" font-style="normal" text-anchor="middle" fill="#454545" >U</text>
<text x="153.20" y="511.65" font-size="8.5" font-weight="normal" font-style="normal" text-anchor="middle" fill="#454545" >A</text>
<text x="148.00" y="507.15" font-size="8.5" font-weight="normal" font-style="normal" text-anchor="middle" fill="#454545" >C</text>
<text x="142.40" y="502.65" font-size="8.5" font-weight="normal" font-style="normal" text-anchor="middle" fill="#454545" >C</text>
<text x="137.10" y="497.85" font-size="8.5" font-weight="normal" font-style="normal" text-anchor="middle" fill="#454545" >A</text>
<text x="131.70" y="493.25" font-size="8.5" font-weight="normal" font-style="normal" text-anchor="middle" fill="#454545" >G</text>
<text x="123.30" y="494.05" font-size="8.5" font-weight="normal" font-style="normal" text-anchor="middle" fill="#454545" >A</text>
<text x="117.30" y="488.55" font-size="8.5" font-weight="normal" font-style="normal" text-anchor="middle" fill="#454545" >A</text>
<text x="117.80" y="480.45" font-size="8.5" font-weight="normal" font-style="normal" text-anchor="middle" fill="#454545" >A</text>
<text x="112.60" y="475.25" font-size="8.5" font-weight="normal" font-style="normal" text-anchor="middle" fill="#454545" >G</text>
<text x="106.60" y="470.65" font-size="8.5" font-weight="normal" font-style="normal" text-anchor="middle" fill="#454545" >C</text>
<text x="98.40" y="469.35" font-size="8.5" font-weight="normal" font-style="normal" text-anchor="middle" fill="#454545" >A</text>
<text x="96.10" y="460.15" font-size="8.5" font-weight="normal" font-style="normal" text-anchor="middle" fill="#454545" >C</text>
<text x="88.20" y="460.15" font-size="8.5" font-weight="normal" font-style="normal" text-anchor="middle" fill="#454545" >C</text>
<text x="88.00" y="452.05" font-size="8.5" font-weight="normal" font-style="normal" text-anchor="middle" fill="#454545" >G</text>
<text x="82.00" y="448.05" font-size="8.5" font-weight="normal" font-style="normal" text-anchor="middle" fill="#454545" >U</text>
<text x="76.30" y="443.35" font-size="8.5" font-weight="normal" font-style="normal" text-anchor="middle" fill="#454545" >U</text>
<text x="69.40" y="444.05" font-size="8.5" font-weight="normal" font-style="normal" text-anchor="middle" fill="#454545" >U</text>
<text x="62.50" y="442.05" font-size="8.5" font-weight="normal" font-style="normal" text-anchor="middle" fill="#454545" >C</text>
<text x="57.20" y="436.85" font-size="8.5" font-weight="normal" font-style="normal" text-anchor="middle" fill="#454545" >C</text>
<text x="53.90" y="431.55" font-size="8.5" font-weight="normal" font-style="normal" text-anchor="middle" fill="#454545" >C</text>
<text x="53.60" y="423.65" font-size="8.5" font-weight="normal" font-style="normal" text-anchor="middle" fill="#333" >G</text>
<text x="55.50" y="416.35" font-size="8.5" font-weight="normal" font-style="normal" text-anchor="middle" fill="#454545" >U</text>
<text x="60.00" y="411.35" font-size="8.5" font-weight="normal" font-style="normal" text-anchor="middle" fill="#454545" >C</text>
<text x="66.20" y="407.95" font-size="8.5" font-weight="normal" font-style="normal" text-anchor="middle" fill="#454545" >C</text>
<text x="73.70" y="407.65" font-size="8.5" font-weight="normal" font-style="normal" text-anchor="middle" fill="#454545" >G</text>
<text x="79.60" y="409.55" font-size="8.5" font-weight="normal" font-style="normal" text-anchor="middle" fill="#454545" >A</text>
<text x="85.30" y="414.25" font-size="8.5" font-weight="normal" font-style="normal" text-anchor="middle" fill="#454545" >U</text>
<text x="88.40" y="420.85" font-size="8.5" font-weight="normal" font-style="normal" text-anchor="middle" fill="#454545" >C</text>
<text x="88.50" y="428.35" font-size="8.5" font-weight="normal" font-style="normal" text-anchor="middle" fill="#454545" >A</text>
<text x="94.20" y="432.85" font-size="8.5" font-weight="normal" font-style="normal" text-anchor="middle" fill="#454545" >A</text>
<text x="99.80" y="436.75" font-size="8.5" font-weight="normal" font-style="normal" text-anchor="middle" fill="#454545" >C</text>
<text x="107.20" y="437.45" font-size="8.5" font-weight="normal" font-style="normal" text-anchor="middle" fill="#454545" >U</text>
<text x="109.20" y="445.45" font-size="8.5" font-weight="normal" font-style="normal" text-anchor="middle" fill="#454545" >G</text>
<text x="115.10" y="445.05" font-size="8.5" font-weight="normal" font-style="normal" text-anchor="middle" fill="#454545" >U</text>
<text x="119.70" y="449.05" font-size="8.5" font-weight="normal" font-style="normal" text-anchor="middle" fill="#454545" >A</text>
<text x="119.30" y="455.85" font-size="8.5" font-weight="normal" font-style="normal" text-anchor="middle" fill="#454545" >G</text>
<text x="125.00" y="460.75" font-size="8.5" font-weight="normal" font-style="normal" text-anchor="middle" fill="#454545" >U</text>
<text x="130.30" y="465.05" font-size="8.5" font-weight="normal" font-style="normal" text-anchor="middle" fill="#454545" >U</text>
<text x="137.40" y="461.25" font-size="8.5" font-weight="normal" font-style="normal" text-anchor="middle" fill="#454545" >A</text>
<text x="144.40" y="463.75" font-size="8.5" font-weight="normal" font-style="normal" text-anchor="middle" fill="#454545" >A</text>
<text x="148.30" y="471.15" font-size="8.5" font-weight="normal" font-style="normal" text-anchor="middle" fill="#333" >G</text>
<text x="143.60" y="478.55" font-size="8.5" font-weight="normal" font-style="normal" text-anchor="middle" fill="#454545" >C</text>
<text x="149.00" y="483.15" font-size="8.5" font-weight="normal" font-style="normal" text-anchor="middle" fill="#454545" >U</text>
<text x="154.70" y="487.25" font-size="8.5" font-weight="normal" font-style="normal" text-anchor="middle" fill="#454545" >G</text>
<text x="160.40" y="492.05" font-size="8.5" font-weight="normal" font-style="normal" text-anchor="middle" fill="#454545" >G</text>
<text x="165.80" y="497.15" font-size="8.5" font-weight="normal" font-style="normal" text-anchor="middle" fill="#454545" >U</text>
<text x="170.90" y="502.25" font-size="8.5" font-weight="normal" font-style="normal" text-anchor="middle" fill="#454545" >A</text>
<text x="178.20" y="501.55" font-size="8.5" font-weight="normal" font-style="normal" text-anchor="middle" fill="#454545" >A</text>
<text x="178.90" y="510.25" font-size="8.5" font-weight="normal" font-style="normal" text-anchor="middle" fill="#454545" >G</text>
<text x="184.70" y="514.65" font-size="8.5" font-weight="normal" font-style="normal" text-anchor="middle" fill="#454545" >A</text>
<text x="195.00" y="514.65" font-size="8.5" font-weight="normal" font-style="normal" text-anchor="middle" fill="#454545" >G</text>
<text x="203.30" y="518.25" font-size="8.5" font-weight="normal" font-style="normal" text-anchor="middle" fill="#454545" >C</text>
<text x="210.10" y="515.65" font-size="8.5" font-weight="normal" font-style="normal" text-anchor="middle" fill="#454545" >C</text>
<text x="216.60" y="512.75" font-size="8.5" font-weight="normal" font-style="normal" text-anchor="middle" fill="#454545" >U</text>
<text x="223.40" y="510.35" font-size="8.5" font-weight="normal" font-style="normal" text-anchor="middle" fill="#454545" >G</text>
<text x="229.20" y="508.55" font-size="8.5" font-weight="normal" font-style="normal" text-anchor="middle" fill="#454545" >A</text>
<text x="231.10" y="501.75" font-size="8.5" font-weight="normal" font-style="normal" text-anchor="middle" fill="#454545" >C</text>
<text x="235.00" y="496.95" font-size="8.5" font-weight="normal" font-style="normal" text-anchor="middle" fill="#454545" >C</text>
<text x="239.10" y="492.55" font-size="8.5" font-weight="normal" font-style="normal" text-anchor="middle" fill="#454545" >G</text>
<text x="243.80" y="489.65" font-size="8.5" font-weight="normal" font-style="normal" text-anchor="middle" fill="#454545" >A</text>
<text x="250.60" y="487.45" font-size="8.5" font-weight="normal" font-style="normal" text-anchor="middle" fill="#454545" >G</text>
<text x="256.00" y="488.05" font-size="8.5" font-weight="normal" font-style="normal" text-anchor="middle" fill="#454545" >U</text>
<text x="261.10" y="489.45" font-size="8.5" font-weight="normal" font-style="normal" text-anchor="middle" fill="#454545" >A</text>
<text x="267.00" y="492.85" font-size="8.5" font-weight="normal" font-style="normal" text-anchor="middle" fill="#454545" >G</text>
<text x="273.80" y="490.65" font-size="8.5" font-weight="normal" font-style="normal" text-anchor="middle" fill="#454545" >U</text>
<text x="281.20" y="488.05" font-size="8.5" font-weight="normal" font-style="normal" text-anchor="middle" fill="#333" >G</text>
<text x="287.50" y="485.75" font-size="8.5" font-weight="normal" font-style="normal" text-anchor="middle" fill="#454545" >U</text>
<text x="293.60" y="483.55" font-size="8.5" font-weight="normal" font-style="normal" text-anchor="middle" fill="#454545" >A</text>
<text x="297.60" y="475.45" font-size="8.5" font-weight="normal" font-style="normal" text-anchor="middle" fill="#333" >G</text>
<text x="304.20" y="479.85" font-size="8.5" font-weight="normal" font-style="normal" text-anchor="middle" fill="#454545" >U</text>
<text x="311.60" y="476.55" font-size="8.5" font-weight="normal" font-style="normal" text-anchor="middle" fill="#454545" >G</text>
<text x="318.20" y="474.75" font-size="8.5" font-weight="normal" font-style="normal" text-anchor="middle" fill="#454545" >G</text>
<text x="325.00" y="472.25" font-size="8.5" font-weight="normal" font-style="normal" text-anchor="middle" fill="#454545" >G</text>
<text x="331.10" y="475.35" font-size="8.5" font-weight="normal" font-style="normal" text-anchor="middle" fill="#454545" >U</text>
<text x="334.10" y="482.15" font-size="8.5" font-weight="normal" font-style="normal" text-anchor="middle" fill="#333" >G</text>
<text x="331.00" y="488.85" font-size="8.5" font-weight="normal" font-style="normal" text-anchor="middle" fill="#454545" >A</text>
<text x="325.10" y="491.85" font-size="8.5" font-weight="normal" font-style="normal" text-anchor="middle" fill="#454545" >C</text>
<text x="318.50" y="494.15" font-size="8.5" font-weight="normal" font-style="normal" text-anchor="middle" fill="#454545" >C</text>
<text x="311.20" y="496.95" font-size="8.5" font-weight="normal" font-style="normal" text-anchor="middle" fill="#454545" >A</text>
<text x="305.00" y="499.45" font-size="8.5" font-weight="normal" font-style="normal" text-anchor="middle" fill="#454545" >U</text>
<text x="292.80" y="504.15" font-size="8.5" font-weight="normal" font-style="normal" text-anchor="middle" fill="#454545" >A</text>
<text x="286.60" y="506.45" font-size="8.5" font-weight="normal" font-style="normal" text-anchor="middle" fill="#454545" >C</text>
<text x="280.20" y="508.45" font-size="8.5" font-weight="normal" font-style="normal" text-anchor="middle" fill="#454545" >G</text>
<text x="273.40" y="510.25" font-size="8.5" font-weight="normal" font-style="normal" text-anchor="middle" fill="#454545" >C</text>
<text x="271.20" y="518.85" font-size="8.5" font-weight="normal" font-style="normal" text-anchor="middle" fill="#454545" >G</text>
<text x="265.70" y="525.35" font-size="8.5" font-weight="normal" font-style="normal" text-anchor="middle" fill="#454545" >A</text>
<text x="259.10" y="529.45" font-size="8.5" font-weight="normal" font-style="normal" text-anchor="middle" fill="#454545" >A</text>
<text x="251.10" y="530.45" font-size="8.5" font-weight="normal" font-style="normal" text-anchor="middle" fill="#454545" >A</text>
<text x="243.10" y="529.75" font-size="8.5" font-weight="normal" font-style="normal" text-anchor="middle" fill="#454545" >C</text>
<text x="236.40" y="526.55" font-size="8.5" font-weight="normal" font-style="normal" text-anchor="middle" fill="#454545" >U</text>
<text x="229.80" y="529.35" font-size="8.5" font-weight="normal" font-style="normal" text-anchor="middle" fill="#454545" >C</text>
<text x="222.80" y="531.35" font-size="8.5" font-weight="normal" font-style="normal" text-anchor="middle" fill="#454545" >A</text>
<text x="216.80" y="533.55" font-size="8.5" font-weight="normal" font-style="normal" text-anchor="middle" fill="#454545" >G</text>
<text x="210.10" y="536.25" font-size="8.5" font-weight="normal" font-style="normal" text-anchor="middle" fill="#454545" >G</text>
<text x="209.40" y="546.05" font-size="8.5" font-weight="normal" font-style="normal" text-anchor="middle" fill="#454545" >U</text>
<text x="205.20" y="553.75" font-size="8.5" font-weight="normal" font-style="normal" text-anchor="middle" fill="#454545" >G</text>
<text x="205.20" y="561.15" font-size="8.5" font-weight="normal" font-style="normal" text-anchor="middle" fill="#454545" >C</text>
<text x="205.20" y="568.25" font-size="8.5" font-weight="normal" font-style="normal" text-anchor="middle" fill="#454545" >U</text>
<text x="205.20" y="575.65" font-size="8.5" font-weight="normal" font-style="normal" text-anchor="middle" fill="#454545" >G</text>
<text x="205.20" y="583.05" font-size="8.5" font-weight="normal" font-style="normal" text-anchor="middle" fill="#454545" >C</text>
<text x="205.20" y="590.45" font-size="8.5" font-weight="normal" font-style="normal" text-anchor="middle" fill="#454545" >A</text>
<text x="205.20" y="597.35" font-size="8.5" font-weight="normal" font-style="normal" text-anchor="middle" fill="#454545" >A</text>
<text x="205.20" y="604.75" font-size="8.5" font-weight="normal" font-style="normal" text-anchor="middle" fill="#454545" >U</text>
<text x="205.20" y="612.15" font-size="8.5" font-weight="normal" font-style="normal" text-anchor="middle" fill="#454545" >C</text>
<text x="205.20" y="619.55" font-size="8.5" font-weight="normal" font-style="normal" text-anchor="middle" fill="#454545" >U</text>
<text x="168.70" y="565.20" font-size="8.3" font-weight="normal" font-style="normal" text-anchor="middle" fill="#454545" >10</text>
<line x1="173.30" y1="558.50" x2="176.70" y2="554.40" stroke="#555" stroke-width="0.6" />
<text x="127.10" y="510.60" font-size="8.3" font-weight="normal" font-style="normal" text-anchor="middle" fill="#454545" >20</text>
<line x1="134.70" y1="498.90" x2="131.20" y2="504.00" stroke="#555" stroke-width="0.6" />
<text x="74.50" y="462.70" font-size="8.3" font-weight="normal" font-style="normal" text-anchor="middle" fill="#454545" >30</text>
<line x1="80.40" y1="455.10" x2="84.30" y2="452.50" stroke="#555" stroke-width="0.6" />
<text x="61.10" y="393.20" font-size="8.3" font-weight="normal" font-style="normal" text-anchor="middle" fill="#454545" >40</text>
<line x1="62.60" y1="394.60" x2="64.10" y2="400.30" stroke="#555" stroke-width="0.6" />
<text x="125.40" y="430.50" font-size="8.3" font-weight="normal" font-style="normal" text-anchor="middle" fill="#454545" >50</text>
<line x1="119.60" y1="432.40" x2="117.00" y2="437.00" stroke="#555" stroke-width="0.6" />
<text x="164.80" y="473.00" font-size="8.3" font-weight="normal" font-style="normal" text-anchor="middle" fill="#454545" >60</text>
<line x1="160.80" y1="475.20" x2="157.10" y2="481.00" stroke="#555" stroke-width="0.6" />
<text x="211.40" y="499.20" font-size="8.3" font-weight="normal" font-style="normal" text-anchor="middle" fill="#454545" >70</text>
<line x1="212.40" y1="501.30" x2="215.30" y2="506.40" stroke="#555" stroke-width="0.6" />
<text x="266.70" y="477.00" font-size="8.3" font-weight="normal" font-style="normal" text-anchor="middle" fill="#454545" >80</text>
<line x1="266.80" y1="479.70" x2="266.80" y2="484.50" stroke="#555" stroke-width="0.6" />
<text x="340.60" y="466.40" font-size="8.3" font-weight="normal" font-style="normal" text-anchor="middle" fill="#454545" >90</text>
<line x1="338.30" y1="466.80" x2="334.70" y2="471.40" stroke="#555" stroke-width="0.6" />
<text x="288.30" y="525.30" font-size="8.3" font-weight="normal" font-style="normal" text-anchor="middle" fill="#454545" >100</text>
<line x1="277.40" y1="512.80" x2="281.00" y2="517.20" stroke="#555" stroke-width="0.6" />
<text x="224.30" y="548.60" font-size="8.3" font-weight="normal" font-style="normal" text-anchor="middle" fill="#454545" >110</text>
<line x1="213.10" y1="537.40" x2="217.80" y2="541.90" stroke="#555" stroke-width="0.6" />
<text x="221.50" y="612.40" font-size="8.3" font-weight="normal" font-style="normal" text-anchor="middle" fill="#454545" >120</text>
<line x1="207.60" y1="609.40" x2="214.10" y2="609.40" stroke="#555" stroke-width="0.6" />
<text x="182.20" y="619.50" font-size="8" font-weight="bold" font-style="normal" text-anchor="middle" fill="#111" >5'</text>
<text x="210.00" y="625.00" font-size="8" font-weight="bold" font-style="normal" text-anchor="middle" fill="#111" >3'</text>
<polygon points="27.50,386.80 37.10,381.90 38.20,394.20" fill="#55d00a" stroke="#000" stroke-width="0.9" stroke-linejoin="miter"/>
<polygon points="33.60,398.40 43.10,393.10 44.30,405.10" fill="#55d00a" stroke="#000" stroke-width="0.9" stroke-linejoin="miter"/>
<polygon points="39.60,408.90 49.10,404.40 50.10,416.70" fill="#55d00a" stroke="#000" stroke-width="0.9" stroke-linejoin="miter"/>
<polygon points="69.70,418.60 77.60,409.40 82.20,421.40" fill="#0a6cc2" stroke="#000" stroke-width="0.9" stroke-linejoin="miter"/>
<polygon points="58.70,421.40 66.60,412.70 71.40,424.30" fill="#0a6cc2" stroke="#000" stroke-width="0.9" stroke-linejoin="miter"/>
<polygon points="30.00,442.20 42.20,435.10 40.10,448.60" fill="#ff85c2" stroke="#000" stroke-width="0.9" stroke-linejoin="miter"/>
<polygon points="37.40,431.50 49.50,423.90 47.30,437.50" fill="#ff85c2" stroke="#000" stroke-width="0.9" stroke-linejoin="miter"/>
<polygon points="142.30,439.40 155.90,438.40 149.00,450.40" fill="#ff85c2" stroke="#000" stroke-width="0.9" stroke-linejoin="miter"/>
<polygon points="142.30,451.40 155.90,450.90 149.40,462.90" fill="#ff85c2" stroke="#000" stroke-width="0.9" stroke-linejoin="miter"/>
<polygon points="162.90,461.40 170.50,453.30 174.80,464.30" fill="#0a6cc2" stroke="#000" stroke-width="0.9" stroke-linejoin="miter"/>
<polygon points="152.30,464.80 159.50,456.40 163.80,467.20" fill="#0a6cc2" stroke="#000" stroke-width="0.9" stroke-linejoin="miter"/>
<polygon points="135.50,477.70 129.80,468.60 142.70,467.70" fill="#55d00a" stroke="#000" stroke-width="0.9" stroke-linejoin="miter"/>
<polygon points="255.90,441.80 267.80,435.80 268.30,451.10" fill="#0a6cc2" stroke="#000" stroke-width="0.9" stroke-linejoin="miter"/>
<polygon points="262.30,456.20 274.20,450.50 274.70,465.20" fill="#0a6cc2" stroke="#000" stroke-width="0.9" stroke-linejoin="miter"/>
<polygon points="269.30,469.00 280.50,463.50 281.40,479.20" fill="#0a6cc2" stroke="#000" stroke-width="0.9" stroke-linejoin="miter"/>
<polygon points="265.50,495.90 278.90,490.70 277.60,502.90" fill="#ff85c2" stroke="#000" stroke-width="0.9" stroke-linejoin="miter"/>
<polygon points="305.00,423.10 317.00,427.50 306.90,438.50" fill="#0a6cc2" stroke="#000" stroke-width="0.9" stroke-linejoin="miter"/>
<polygon points="300.70,437.50 312.20,442.30 303.10,452.40" fill="#0a6cc2" stroke="#000" stroke-width="0.9" stroke-linejoin="miter"/>
<polygon points="296.80,451.90 308.30,456.20 298.80,466.80" fill="#0a6cc2" stroke="#000" stroke-width="0.9" stroke-linejoin="miter"/>
<polygon points="279.60,448.10 291.10,442.60 290.10,455.30" fill="#ff85c2" stroke="#000" stroke-width="0.9" stroke-linejoin="miter"/>
<polygon points="284.40,459.60 295.90,454.30 295.40,467.20" fill="#ff85c2" stroke="#000" stroke-width="0.9" stroke-linejoin="miter"/>
<polygon points="313.10,464.40 319.40,453.30 325.40,464.40" fill="#55d00a" stroke="#000" stroke-width="0.9" stroke-linejoin="miter"/>
<polygon points="302.60,469.20 308.80,459.10 314.10,469.20" fill="#55d00a" stroke="#000" stroke-width="0.9" stroke-linejoin="miter"/>
<polygon points="339.30,494.90 350.10,502.50 337.60,506.10" fill="#55d00a" stroke="#000" stroke-width="0.9" stroke-linejoin="miter"/>
<polygon points="335.80,483.60 346.50,491.30 334.70,495.40" fill="#55d00a" stroke="#000" stroke-width="0.9" stroke-linejoin="miter"/>
<circle cx="53.60" cy="420.60" r="4.00" fill="none" stroke="#c2389a" stroke-width="1.5"/>
<circle cx="148.30" cy="468.10" r="4.00" fill="none" stroke="#c2389a" stroke-width="1.5"/>
<circle cx="281.20" cy="485.00" r="4.00" fill="none" stroke="#c2389a" stroke-width="1.5"/>
<circle cx="297.60" cy="472.40" r="4.00" fill="none" stroke="#c2389a" stroke-width="1.5"/>
<circle cx="334.10" cy="479.10" r="4.00" fill="none" stroke="#c2389a" stroke-width="1.5"/>
<text x="351.00" y="480.00" font-size="10.7" font-weight="bold" font-style="normal" text-anchor="middle" fill="#ff1a1a" >G91</text>
<text x="484.20" y="452.10" font-size="9.7" font-weight="normal" font-style="normal" text-anchor="middle" fill="#222" >Intensity</text>
<polygon points="390.50,464.70 403.20,459.40 403.20,470.00" fill="#6a6a6a" stroke="#000" stroke-width="0.9" stroke-linejoin="miter"/>
<polygon points="403.00,464.70 415.70,459.40 415.70,470.00" fill="#6a6a6a" stroke="#000" stroke-width="0.9" stroke-linejoin="miter"/>
<polygon points="415.70,464.70 428.40,459.40 428.40,470.00" fill="#6a6a6a" stroke="#000" stroke-width="0.9" stroke-linejoin="miter"/>
<polygon points="403.00,481.20 415.70,475.90 415.70,486.50" fill="#6a6a6a" stroke="#000" stroke-width="0.9" stroke-linejoin="miter"/>
<polygon points="415.70,481.20 428.40,475.90 428.40,486.50" fill="#6a6a6a" stroke="#000" stroke-width="0.9" stroke-linejoin="miter"/>
<polygon points="415.90,497.70 428.60,492.40 428.60,503.00" fill="#6a6a6a" stroke="#000" stroke-width="0.9" stroke-linejoin="miter"/>
<text x="435.60" y="468.90" font-size="9.2" font-weight="normal" font-style="normal" text-anchor="start" fill="#222" >strongly damaged sites</text>
<text x="435.60" y="485.40" font-size="9.2" font-weight="normal" font-style="normal" text-anchor="start" fill="#222" >moderately damaged sites</text>
<text x="435.60" y="501.80" font-size="9.2" font-weight="normal" font-style="normal" text-anchor="start" fill="#222" >weakly damaged sites</text>
<text x="469.10" y="524.60" font-size="9.9" font-weight="normal" font-style="normal" text-anchor="middle" fill="#222" >Experimental Conditions</text>
<circle cx="373.10" cy="540.70" r="7.40" fill="#ff85c2" stroke="none" stroke-width="1"/>
<text x="385.8" y="544.00" font-size="9.2" fill="#222">damaged sites in <tspan font-style="italic">in vitro</tspan> treated naked RNA</text>
<circle cx="373.10" cy="557.40" r="7.40" fill="#0a6cc2" stroke="none" stroke-width="1"/>
<text x="385.8" y="560.70" font-size="9.2" fill="#222">damaged sites in <tspan font-style="italic">in vitro</tspan> treated isolated ribosomes</text>
<circle cx="373.10" cy="574.00" r="7.40" fill="#55d00a" stroke="none" stroke-width="1"/>
<text x="385.8" y="577.30" font-size="9.2" fill="#222">damaged sites in <tspan font-style="italic">in vivo</tspan> treated yeast cells</text>
</svg>
</body></html>
